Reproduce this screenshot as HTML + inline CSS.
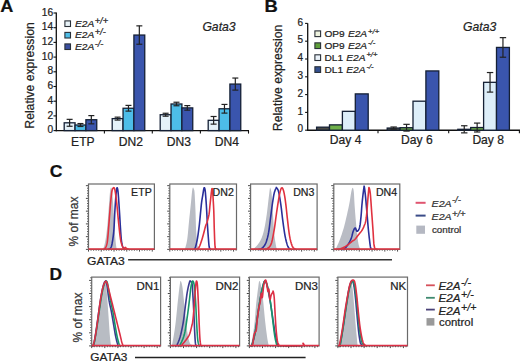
<!DOCTYPE html><html><head><meta charset="utf-8"><style>html,body{margin:0;padding:0;background:#fff;overflow:hidden;width:520px;height:362px;}svg{display:block;}text{font-family:"Liberation Sans", sans-serif;stroke:#222;stroke-width:0.22px;paint-order:stroke;}</style></head><body>
<svg width="520" height="362" viewBox="0 0 520 362">
<rect x="0" y="0" width="520" height="362" fill="#fff"/>
<text transform="translate(0.2,12.0) scale(1.13,1)" font-size="16" font-weight="bold" fill="#111">A</text>
<line x1="56.30" y1="12.60" x2="56.30" y2="131.20" stroke="#111" stroke-width="1.3" />
<line x1="55.70" y1="130.60" x2="249.00" y2="130.60" stroke="#111" stroke-width="1.4" />
<line x1="53.50" y1="130.60" x2="56.30" y2="130.60" stroke="#111" stroke-width="1.1" />
<text x="53.2" y="133.2" font-size="10.2" text-anchor="end" font-weight="normal" font-style="normal" fill="#222" >0</text>
<line x1="53.50" y1="115.90" x2="56.30" y2="115.90" stroke="#111" stroke-width="1.1" />
<text x="53.2" y="118.49999999999999" font-size="10.2" text-anchor="end" font-weight="normal" font-style="normal" fill="#222" >2</text>
<line x1="53.50" y1="101.20" x2="56.30" y2="101.20" stroke="#111" stroke-width="1.1" />
<text x="53.2" y="103.79999999999998" font-size="10.2" text-anchor="end" font-weight="normal" font-style="normal" fill="#222" >4</text>
<line x1="53.50" y1="86.50" x2="56.30" y2="86.50" stroke="#111" stroke-width="1.1" />
<text x="53.2" y="89.1" font-size="10.2" text-anchor="end" font-weight="normal" font-style="normal" fill="#222" >6</text>
<line x1="53.50" y1="71.80" x2="56.30" y2="71.80" stroke="#111" stroke-width="1.1" />
<text x="53.2" y="74.39999999999999" font-size="10.2" text-anchor="end" font-weight="normal" font-style="normal" fill="#222" >8</text>
<line x1="53.50" y1="57.10" x2="56.30" y2="57.10" stroke="#111" stroke-width="1.1" />
<text x="53.2" y="59.699999999999996" font-size="10.2" text-anchor="end" font-weight="normal" font-style="normal" fill="#222" >10</text>
<line x1="53.50" y1="42.40" x2="56.30" y2="42.40" stroke="#111" stroke-width="1.1" />
<text x="53.2" y="45.00000000000001" font-size="10.2" text-anchor="end" font-weight="normal" font-style="normal" fill="#222" >12</text>
<line x1="53.50" y1="27.70" x2="56.30" y2="27.70" stroke="#111" stroke-width="1.1" />
<text x="53.2" y="30.300000000000004" font-size="10.2" text-anchor="end" font-weight="normal" font-style="normal" fill="#222" >14</text>
<line x1="53.50" y1="13.00" x2="56.30" y2="13.00" stroke="#111" stroke-width="1.1" />
<text x="53.2" y="15.6" font-size="10.2" text-anchor="end" font-weight="normal" font-style="normal" fill="#222" >16</text>
<line x1="104.40" y1="130.60" x2="104.40" y2="133.60" stroke="#111" stroke-width="1.1" />
<line x1="152.30" y1="130.60" x2="152.30" y2="133.60" stroke="#111" stroke-width="1.1" />
<line x1="200.40" y1="130.60" x2="200.40" y2="133.60" stroke="#111" stroke-width="1.1" />
<line x1="248.50" y1="130.60" x2="248.50" y2="133.60" stroke="#111" stroke-width="1.1" />
<text transform="translate(33.6,75.5) rotate(-90)" font-size="12.2" text-anchor="middle" fill="#222">Relative expression</text>
<rect x="64.20" y="122.81" width="10.85" height="7.79" fill="#e4f1f9" stroke="#152035" stroke-width="1.3"/>
<line x1="69.62" y1="119.35" x2="69.62" y2="126.26" stroke="#222" stroke-width="1.2" />
<line x1="66.62" y1="119.35" x2="72.62" y2="119.35" stroke="#222" stroke-width="1.2" />
<line x1="66.62" y1="126.26" x2="72.62" y2="126.26" stroke="#222" stroke-width="1.2" />
<rect x="75.05" y="125.01" width="10.85" height="5.59" fill="#4dbde8" stroke="#152035" stroke-width="1.3"/>
<line x1="80.47" y1="123.54" x2="80.47" y2="126.48" stroke="#222" stroke-width="1.2" />
<line x1="77.47" y1="123.54" x2="83.47" y2="123.54" stroke="#222" stroke-width="1.2" />
<line x1="77.47" y1="126.48" x2="83.47" y2="126.48" stroke="#222" stroke-width="1.2" />
<rect x="85.90" y="119.72" width="10.85" height="10.88" fill="#3a55ad" stroke="#152035" stroke-width="1.3"/>
<line x1="91.33" y1="115.61" x2="91.33" y2="123.84" stroke="#222" stroke-width="1.2" />
<line x1="88.33" y1="115.61" x2="94.33" y2="115.61" stroke="#222" stroke-width="1.2" />
<line x1="88.33" y1="123.84" x2="94.33" y2="123.84" stroke="#222" stroke-width="1.2" />
<rect x="112.20" y="118.62" width="10.85" height="11.98" fill="#e4f1f9" stroke="#152035" stroke-width="1.3"/>
<line x1="117.62" y1="117.15" x2="117.62" y2="120.09" stroke="#222" stroke-width="1.2" />
<line x1="114.62" y1="117.15" x2="120.62" y2="117.15" stroke="#222" stroke-width="1.2" />
<line x1="114.62" y1="120.09" x2="120.62" y2="120.09" stroke="#222" stroke-width="1.2" />
<rect x="123.05" y="108.26" width="10.85" height="22.34" fill="#4dbde8" stroke="#152035" stroke-width="1.3"/>
<line x1="128.47" y1="105.39" x2="128.47" y2="111.12" stroke="#222" stroke-width="1.2" />
<line x1="125.47" y1="105.39" x2="131.47" y2="105.39" stroke="#222" stroke-width="1.2" />
<line x1="125.47" y1="111.12" x2="131.47" y2="111.12" stroke="#222" stroke-width="1.2" />
<rect x="133.90" y="35.05" width="10.85" height="95.55" fill="#3a55ad" stroke="#152035" stroke-width="1.3"/>
<line x1="139.33" y1="25.86" x2="139.33" y2="44.24" stroke="#222" stroke-width="1.2" />
<line x1="136.33" y1="25.86" x2="142.33" y2="25.86" stroke="#222" stroke-width="1.2" />
<line x1="136.33" y1="44.24" x2="142.33" y2="44.24" stroke="#222" stroke-width="1.2" />
<rect x="160.20" y="114.72" width="10.85" height="15.88" fill="#e4f1f9" stroke="#152035" stroke-width="1.3"/>
<line x1="165.62" y1="113.25" x2="165.62" y2="116.19" stroke="#222" stroke-width="1.2" />
<line x1="162.62" y1="113.25" x2="168.62" y2="113.25" stroke="#222" stroke-width="1.2" />
<line x1="162.62" y1="116.19" x2="168.62" y2="116.19" stroke="#222" stroke-width="1.2" />
<rect x="171.05" y="103.99" width="10.85" height="26.61" fill="#4dbde8" stroke="#152035" stroke-width="1.3"/>
<line x1="176.47" y1="102.23" x2="176.47" y2="105.76" stroke="#222" stroke-width="1.2" />
<line x1="173.47" y1="102.23" x2="179.47" y2="102.23" stroke="#222" stroke-width="1.2" />
<line x1="173.47" y1="105.76" x2="179.47" y2="105.76" stroke="#222" stroke-width="1.2" />
<rect x="181.90" y="107.89" width="10.85" height="22.71" fill="#3a55ad" stroke="#152035" stroke-width="1.3"/>
<line x1="187.32" y1="105.61" x2="187.32" y2="110.17" stroke="#222" stroke-width="1.2" />
<line x1="184.32" y1="105.61" x2="190.32" y2="105.61" stroke="#222" stroke-width="1.2" />
<line x1="184.32" y1="110.17" x2="190.32" y2="110.17" stroke="#222" stroke-width="1.2" />
<rect x="208.20" y="120.31" width="10.85" height="10.29" fill="#e4f1f9" stroke="#152035" stroke-width="1.3"/>
<line x1="213.62" y1="116.49" x2="213.62" y2="124.13" stroke="#222" stroke-width="1.2" />
<line x1="210.62" y1="116.49" x2="216.62" y2="116.49" stroke="#222" stroke-width="1.2" />
<line x1="210.62" y1="124.13" x2="216.62" y2="124.13" stroke="#222" stroke-width="1.2" />
<rect x="219.05" y="108.77" width="10.85" height="21.83" fill="#4dbde8" stroke="#152035" stroke-width="1.3"/>
<line x1="224.47" y1="104.43" x2="224.47" y2="113.11" stroke="#222" stroke-width="1.2" />
<line x1="221.47" y1="104.43" x2="227.47" y2="104.43" stroke="#222" stroke-width="1.2" />
<line x1="221.47" y1="113.11" x2="227.47" y2="113.11" stroke="#222" stroke-width="1.2" />
<rect x="229.90" y="84.07" width="10.85" height="46.53" fill="#3a55ad" stroke="#152035" stroke-width="1.3"/>
<line x1="235.32" y1="78.05" x2="235.32" y2="90.10" stroke="#222" stroke-width="1.2" />
<line x1="232.32" y1="78.05" x2="238.32" y2="78.05" stroke="#222" stroke-width="1.2" />
<line x1="232.32" y1="90.10" x2="238.32" y2="90.10" stroke="#222" stroke-width="1.2" />
<text x="82.875" y="146.0" font-size="12.1" text-anchor="middle" font-weight="normal" font-style="normal" fill="#222" >ETP</text>
<text x="130.875" y="146.0" font-size="12.1" text-anchor="middle" font-weight="normal" font-style="normal" fill="#222" >DN2</text>
<text x="178.875" y="146.0" font-size="12.1" text-anchor="middle" font-weight="normal" font-style="normal" fill="#222" >DN3</text>
<text x="226.875" y="146.0" font-size="12.1" text-anchor="middle" font-weight="normal" font-style="normal" fill="#222" >DN4</text>
<rect x="64.90" y="20.90" width="5.60" height="5.60" fill="#e8f3f8" stroke="#2a3038" stroke-width="1.1"/>
<text transform="translate(75.0,26.900000000000002) scale(1.08,1)" font-size="9.4" fill="#222" font-style="italic">E2A<tspan font-size="8.6" dx="0.5" dy="-3.3">+/+</tspan></text>
<rect x="64.90" y="32.40" width="5.60" height="5.60" fill="#4fbde6" stroke="#2a3038" stroke-width="1.1"/>
<text transform="translate(75.0,38.4) scale(1.08,1)" font-size="9.4" fill="#222" font-style="italic">E2A<tspan font-size="8.6" dx="0.5" dy="-3.3">+/-</tspan></text>
<rect x="64.90" y="43.90" width="5.60" height="5.60" fill="#3a4fa0" stroke="#2a3038" stroke-width="1.1"/>
<text transform="translate(75.0,49.9) scale(1.08,1)" font-size="9.4" fill="#222" font-style="italic">E2A<tspan font-size="8.6" dx="0.5" dy="-3.3">-/-</tspan></text>
<text x="202.4" y="31.2" font-size="12.2" text-anchor="start" font-weight="normal" font-style="italic" fill="#222" >Gata3</text>
<text transform="translate(264.4,12.1) scale(1.15,1)" font-size="16" font-weight="bold" fill="#111">B</text>
<line x1="307.70" y1="23.20" x2="307.70" y2="130.80" stroke="#111" stroke-width="1.3" />
<line x1="307.10" y1="130.20" x2="520.00" y2="130.20" stroke="#111" stroke-width="1.4" />
<line x1="305.10" y1="130.20" x2="307.70" y2="130.20" stroke="#111" stroke-width="1.1" />
<text x="303.0" y="132.39999999999998" font-size="10.0" text-anchor="end" font-weight="normal" font-style="normal" fill="#222" >0</text>
<line x1="305.10" y1="112.40" x2="307.70" y2="112.40" stroke="#111" stroke-width="1.1" />
<text x="303.0" y="114.6" font-size="10.0" text-anchor="end" font-weight="normal" font-style="normal" fill="#222" >1</text>
<line x1="305.10" y1="94.60" x2="307.70" y2="94.60" stroke="#111" stroke-width="1.1" />
<text x="303.0" y="96.8" font-size="10.0" text-anchor="end" font-weight="normal" font-style="normal" fill="#222" >2</text>
<line x1="305.10" y1="76.80" x2="307.70" y2="76.80" stroke="#111" stroke-width="1.1" />
<text x="303.0" y="78.99999999999999" font-size="10.0" text-anchor="end" font-weight="normal" font-style="normal" fill="#222" >3</text>
<line x1="305.10" y1="59.00" x2="307.70" y2="59.00" stroke="#111" stroke-width="1.1" />
<text x="303.0" y="61.19999999999999" font-size="10.0" text-anchor="end" font-weight="normal" font-style="normal" fill="#222" >4</text>
<line x1="305.10" y1="41.20" x2="307.70" y2="41.20" stroke="#111" stroke-width="1.1" />
<text x="303.0" y="43.39999999999999" font-size="10.0" text-anchor="end" font-weight="normal" font-style="normal" fill="#222" >5</text>
<line x1="305.10" y1="23.40" x2="307.70" y2="23.40" stroke="#111" stroke-width="1.1" />
<text x="303.0" y="25.599999999999977" font-size="10.0" text-anchor="end" font-weight="normal" font-style="normal" fill="#222" >6</text>
<line x1="378.00" y1="130.20" x2="378.00" y2="133.20" stroke="#111" stroke-width="1.1" />
<line x1="448.70" y1="130.20" x2="448.70" y2="133.20" stroke="#111" stroke-width="1.1" />
<line x1="519.40" y1="130.20" x2="519.40" y2="133.20" stroke="#111" stroke-width="1.1" />
<text transform="translate(282.3,78.0) rotate(-90)" font-size="12.2" text-anchor="middle" fill="#222">Relative expression</text>
<rect x="316.60" y="127.17" width="12.90" height="3.03" fill="#4a4a44" stroke="#152035" stroke-width="1.3"/>
<rect x="329.50" y="124.86" width="12.90" height="5.34" fill="#6fb04a" stroke="#152035" stroke-width="1.3"/>
<rect x="342.40" y="111.33" width="12.90" height="18.87" fill="#ddeef9" stroke="#152035" stroke-width="1.3"/>
<rect x="355.30" y="93.89" width="12.90" height="36.31" fill="#3a55ad" stroke="#152035" stroke-width="1.3"/>
<rect x="387.20" y="128.06" width="12.90" height="2.14" fill="#4a4a44" stroke="#152035" stroke-width="1.3"/>
<line x1="393.65" y1="127.00" x2="393.65" y2="129.13" stroke="#222" stroke-width="1.2" />
<line x1="390.45" y1="127.00" x2="396.85" y2="127.00" stroke="#222" stroke-width="1.2" />
<line x1="390.45" y1="129.13" x2="396.85" y2="129.13" stroke="#222" stroke-width="1.2" />
<rect x="400.10" y="127.71" width="12.90" height="2.49" fill="#6fb04a" stroke="#152035" stroke-width="1.3"/>
<line x1="406.55" y1="124.33" x2="406.55" y2="131.09" stroke="#222" stroke-width="1.2" />
<line x1="403.35" y1="124.33" x2="409.75" y2="124.33" stroke="#222" stroke-width="1.2" />
<line x1="403.35" y1="131.09" x2="409.75" y2="131.09" stroke="#222" stroke-width="1.2" />
<rect x="413.00" y="101.19" width="12.90" height="29.01" fill="#ddeef9" stroke="#152035" stroke-width="1.3"/>
<rect x="425.90" y="70.93" width="12.90" height="59.27" fill="#3a55ad" stroke="#152035" stroke-width="1.3"/>
<rect x="457.80" y="129.31" width="12.90" height="0.89" fill="#4a4a44" stroke="#152035" stroke-width="1.3"/>
<line x1="464.25" y1="125.75" x2="464.25" y2="132.87" stroke="#222" stroke-width="1.2" />
<line x1="461.05" y1="125.75" x2="467.45" y2="125.75" stroke="#222" stroke-width="1.2" />
<line x1="461.05" y1="132.87" x2="467.45" y2="132.87" stroke="#222" stroke-width="1.2" />
<rect x="470.70" y="127.53" width="12.90" height="2.67" fill="#6fb04a" stroke="#152035" stroke-width="1.3"/>
<line x1="477.15" y1="123.08" x2="477.15" y2="131.98" stroke="#222" stroke-width="1.2" />
<line x1="473.95" y1="123.08" x2="480.35" y2="123.08" stroke="#222" stroke-width="1.2" />
<line x1="473.95" y1="131.98" x2="480.35" y2="131.98" stroke="#222" stroke-width="1.2" />
<rect x="483.60" y="82.32" width="12.90" height="47.88" fill="#ddeef9" stroke="#152035" stroke-width="1.3"/>
<line x1="490.05" y1="72.53" x2="490.05" y2="92.11" stroke="#222" stroke-width="1.2" />
<line x1="486.85" y1="72.53" x2="493.25" y2="72.53" stroke="#222" stroke-width="1.2" />
<line x1="486.85" y1="92.11" x2="493.25" y2="92.11" stroke="#222" stroke-width="1.2" />
<rect x="496.50" y="47.43" width="12.90" height="82.77" fill="#3a55ad" stroke="#152035" stroke-width="1.3"/>
<line x1="502.95" y1="37.64" x2="502.95" y2="57.22" stroke="#222" stroke-width="1.2" />
<line x1="499.75" y1="37.64" x2="506.15" y2="37.64" stroke="#222" stroke-width="1.2" />
<line x1="499.75" y1="57.22" x2="506.15" y2="57.22" stroke="#222" stroke-width="1.2" />
<text x="345.6" y="143.6" font-size="12.1" text-anchor="middle" font-weight="normal" font-style="normal" fill="#222" >Day 4</text>
<text x="416.90000000000003" y="143.6" font-size="12.1" text-anchor="middle" font-weight="normal" font-style="normal" fill="#222" >Day 6</text>
<text x="488.20000000000005" y="143.6" font-size="12.1" text-anchor="middle" font-weight="normal" font-style="normal" fill="#222" >Day 8</text>
<rect x="314.90" y="30.90" width="5.70" height="5.70" fill="#eef3df" stroke="#2a3038" stroke-width="1.1"/>
<text transform="translate(324.4,36.800000000000004) scale(1.06,1)" font-size="9.6" fill="#222">OP9<tspan dx="3.0" font-style="italic">E2A</tspan><tspan font-style="italic" font-size="7.2" dx="0.9" dy="-3.3">+/+</tspan></text>
<rect x="314.90" y="42.85" width="5.70" height="5.70" fill="#5e9e3a" stroke="#2a3038" stroke-width="1.1"/>
<text transform="translate(324.4,48.75) scale(1.06,1)" font-size="9.6" fill="#222">OP9<tspan dx="3.0" font-style="italic">E2A</tspan><tspan font-style="italic" font-size="7.2" dx="0.9" dy="-3.3">-/-</tspan></text>
<rect x="314.90" y="54.80" width="5.70" height="5.70" fill="#eaf2f9" stroke="#2a3038" stroke-width="1.1"/>
<text transform="translate(324.4,60.7) scale(1.06,1)" font-size="9.6" fill="#222">DL1<tspan dx="3.0" font-style="italic">E2A</tspan><tspan font-style="italic" font-size="7.2" dx="0.9" dy="-3.3">+/+</tspan></text>
<rect x="314.90" y="66.75" width="5.70" height="5.70" fill="#34508f" stroke="#2a3038" stroke-width="1.1"/>
<text transform="translate(324.4,72.64999999999999) scale(1.06,1)" font-size="9.6" fill="#222">DL1<tspan dx="3.0" font-style="italic">E2A</tspan><tspan font-style="italic" font-size="7.2" dx="0.9" dy="-3.3">-/-</tspan></text>
<text x="463.0" y="31.0" font-size="12.2" text-anchor="start" font-weight="normal" font-style="italic" fill="#222" >Gata3</text>
<text transform="translate(49.8,177.0) scale(1.1,1)" font-size="16" font-weight="bold" fill="#111">C</text>
<rect x="88.5" y="184.0" width="65.9" height="65.4" fill="#fff"/>
<polygon points="101.50,249.40 101.72,249.30 102.02,249.21 102.38,249.09 102.76,248.85 103.14,248.44 103.50,247.80 103.84,246.93 104.17,245.89 104.51,244.68 104.85,243.29 105.18,241.73 105.50,240.00 105.82,238.08 106.13,235.98 106.43,233.70 106.73,231.27 107.02,228.69 107.30,226.00 107.57,223.05 107.84,219.81 108.10,216.44 108.35,213.07 108.58,209.88 108.80,207.00 109.00,204.40 109.18,201.94 109.34,199.66 109.50,197.56 109.65,195.66 109.80,194.00 109.94,192.59 110.08,191.43 110.21,190.47 110.34,189.69 110.47,189.04 110.60,188.50 110.73,188.05 110.86,187.72 110.99,187.53 111.12,187.50 111.26,187.65 111.40,188.00 111.55,188.51 111.71,189.15 111.88,189.97 112.05,191.02 112.23,192.35 112.40,194.00 112.58,196.06 112.76,198.52 112.94,201.25 113.13,204.15 113.32,207.10 113.50,210.00 113.68,212.94 113.87,216.04 114.06,219.19 114.24,222.30 114.42,225.27 114.60,228.00 114.77,230.53 114.94,232.93 115.11,235.19 115.28,237.30 115.44,239.24 115.60,241.00 115.75,242.58 115.90,243.99 116.05,245.22 116.20,246.30 116.35,247.23 116.50,248.00 116.67,248.57 116.86,248.93 117.06,249.14 117.24,249.24 117.39,249.31 117.50,249.40" fill="#b9bcc4" stroke="none" stroke-width="0" stroke-linejoin="round" stroke-linecap="round"/>
<polyline points="108.50,249.30 108.72,249.19 109.04,249.06 109.41,248.90 109.80,248.68 110.17,248.39 110.50,248.00 110.78,247.59 111.03,247.20 111.26,246.73 111.50,246.10 111.74,245.22 112.00,244.00 112.29,242.42 112.61,240.55 112.93,238.42 113.25,236.10 113.54,233.61 113.80,231.00 114.02,228.13 114.20,224.92 114.36,221.55 114.51,218.19 114.65,215.02 114.80,212.20 114.95,209.74 115.09,207.51 115.22,205.46 115.35,203.55 115.47,201.74 115.60,200.00 115.72,198.31 115.84,196.71 115.96,195.22 116.07,193.84 116.18,192.60 116.30,191.50 116.42,190.54 116.53,189.71 116.65,189.01 116.77,188.46 116.88,188.05 117.00,187.80 117.12,187.72 117.23,187.79 117.35,188.01 117.47,188.38 117.58,188.88 117.70,189.50 117.81,190.19 117.92,190.95 118.03,191.84 118.14,192.94 118.26,194.30 118.40,196.00 118.56,198.15 118.74,200.73 118.94,203.57 119.13,206.53 119.32,209.46 119.50,212.20 119.66,214.79 119.81,217.36 119.96,219.89 120.10,222.39 120.25,224.82 120.40,227.20 120.56,229.57 120.71,231.95 120.87,234.28 121.03,236.49 121.21,238.52 121.40,240.30 121.61,241.81 121.83,243.10 122.06,244.21 122.30,245.17 122.54,246.02 122.80,246.80 123.09,247.48 123.41,248.02 123.74,248.46 124.05,248.80 124.31,249.07 124.50,249.30" fill="none" stroke="#2a2f9a" stroke-width="1.6" stroke-linejoin="round" stroke-linecap="round"/>
<polyline points="104.50,249.30 104.70,248.98 104.99,248.56 105.32,248.06 105.67,247.46 106.01,246.77 106.30,246.00 106.54,245.23 106.76,244.49 106.97,243.66 107.17,242.63 107.38,241.28 107.60,239.50 107.84,237.16 108.09,234.33 108.35,231.18 108.61,227.89 108.86,224.64 109.10,221.60 109.33,218.68 109.56,215.73 109.78,212.81 110.00,210.00 110.20,207.37 110.40,205.00 110.59,202.89 110.76,200.99 110.93,199.28 111.09,197.72 111.25,196.30 111.40,195.00 111.54,193.84 111.67,192.85 111.80,192.00 111.93,191.26 112.06,190.60 112.20,190.00 112.36,189.47 112.52,189.04 112.69,188.69 112.86,188.41 113.03,188.18 113.20,188.00 113.37,187.84 113.53,187.72 113.70,187.66 113.87,187.67 114.03,187.77 114.20,188.00 114.36,188.29 114.51,188.62 114.67,189.04 114.83,189.63 115.00,190.42 115.20,191.50 115.42,192.85 115.65,194.41 115.90,196.19 116.16,198.19 116.43,200.39 116.70,202.80 116.98,205.52 117.27,208.58 117.58,211.85 117.88,215.20 118.19,218.49 118.50,221.60 118.81,224.64 119.13,227.72 119.44,230.76 119.76,233.63 120.08,236.25 120.40,238.50 120.72,240.35 121.04,241.88 121.36,243.14 121.68,244.21 121.99,245.14 122.30,246.00 122.60,246.76 122.90,247.37 123.19,247.84 123.47,248.20 123.74,248.44 124.00,248.60 124.24,248.59 124.46,248.39 124.66,248.08 124.87,247.76 125.08,247.50 125.30,247.40 125.54,247.48 125.78,247.67 126.03,247.94 126.28,248.23 126.54,248.49 126.80,248.70 127.09,248.85 127.41,248.97 127.74,249.08 128.05,249.17 128.31,249.24 128.50,249.30" fill="none" stroke="#e0313f" stroke-width="1.6" stroke-linejoin="round" stroke-linecap="round"/>
<line x1="85.90" y1="249.40" x2="88.50" y2="249.40" stroke="#3a3a3a" stroke-width="0.9" />
<line x1="87.10" y1="246.85" x2="88.50" y2="246.85" stroke="#3a3a3a" stroke-width="0.9" />
<line x1="87.10" y1="244.30" x2="88.50" y2="244.30" stroke="#3a3a3a" stroke-width="0.9" />
<line x1="87.10" y1="241.75" x2="88.50" y2="241.75" stroke="#3a3a3a" stroke-width="0.9" />
<line x1="87.10" y1="239.20" x2="88.50" y2="239.20" stroke="#3a3a3a" stroke-width="0.9" />
<line x1="85.90" y1="236.65" x2="88.50" y2="236.65" stroke="#3a3a3a" stroke-width="0.9" />
<line x1="87.10" y1="234.10" x2="88.50" y2="234.10" stroke="#3a3a3a" stroke-width="0.9" />
<line x1="87.10" y1="231.55" x2="88.50" y2="231.55" stroke="#3a3a3a" stroke-width="0.9" />
<line x1="87.10" y1="229.00" x2="88.50" y2="229.00" stroke="#3a3a3a" stroke-width="0.9" />
<line x1="87.10" y1="226.45" x2="88.50" y2="226.45" stroke="#3a3a3a" stroke-width="0.9" />
<line x1="85.90" y1="223.90" x2="88.50" y2="223.90" stroke="#3a3a3a" stroke-width="0.9" />
<line x1="87.10" y1="221.35" x2="88.50" y2="221.35" stroke="#3a3a3a" stroke-width="0.9" />
<line x1="87.10" y1="218.80" x2="88.50" y2="218.80" stroke="#3a3a3a" stroke-width="0.9" />
<line x1="87.10" y1="216.25" x2="88.50" y2="216.25" stroke="#3a3a3a" stroke-width="0.9" />
<line x1="87.10" y1="213.70" x2="88.50" y2="213.70" stroke="#3a3a3a" stroke-width="0.9" />
<line x1="85.90" y1="211.15" x2="88.50" y2="211.15" stroke="#3a3a3a" stroke-width="0.9" />
<line x1="87.10" y1="208.60" x2="88.50" y2="208.60" stroke="#3a3a3a" stroke-width="0.9" />
<line x1="87.10" y1="206.05" x2="88.50" y2="206.05" stroke="#3a3a3a" stroke-width="0.9" />
<line x1="87.10" y1="203.50" x2="88.50" y2="203.50" stroke="#3a3a3a" stroke-width="0.9" />
<line x1="87.10" y1="200.95" x2="88.50" y2="200.95" stroke="#3a3a3a" stroke-width="0.9" />
<line x1="85.90" y1="198.40" x2="88.50" y2="198.40" stroke="#3a3a3a" stroke-width="0.9" />
<line x1="87.10" y1="195.85" x2="88.50" y2="195.85" stroke="#3a3a3a" stroke-width="0.9" />
<line x1="87.10" y1="193.30" x2="88.50" y2="193.30" stroke="#3a3a3a" stroke-width="0.9" />
<line x1="87.10" y1="190.75" x2="88.50" y2="190.75" stroke="#3a3a3a" stroke-width="0.9" />
<line x1="87.10" y1="188.20" x2="88.50" y2="188.20" stroke="#3a3a3a" stroke-width="0.9" />
<line x1="85.90" y1="185.65" x2="88.50" y2="185.65" stroke="#3a3a3a" stroke-width="0.9" />
<line x1="88.50" y1="249.40" x2="88.50" y2="251.60" stroke="#3a3a3a" stroke-width="0.9" />
<line x1="91.05" y1="249.40" x2="91.05" y2="250.70" stroke="#3a3a3a" stroke-width="0.9" />
<line x1="93.60" y1="249.40" x2="93.60" y2="250.70" stroke="#3a3a3a" stroke-width="0.9" />
<line x1="96.15" y1="249.40" x2="96.15" y2="250.70" stroke="#3a3a3a" stroke-width="0.9" />
<line x1="98.70" y1="249.40" x2="98.70" y2="250.70" stroke="#3a3a3a" stroke-width="0.9" />
<line x1="101.25" y1="249.40" x2="101.25" y2="251.60" stroke="#3a3a3a" stroke-width="0.9" />
<line x1="103.80" y1="249.40" x2="103.80" y2="250.70" stroke="#3a3a3a" stroke-width="0.9" />
<line x1="106.35" y1="249.40" x2="106.35" y2="250.70" stroke="#3a3a3a" stroke-width="0.9" />
<line x1="108.90" y1="249.40" x2="108.90" y2="250.70" stroke="#3a3a3a" stroke-width="0.9" />
<line x1="111.45" y1="249.40" x2="111.45" y2="250.70" stroke="#3a3a3a" stroke-width="0.9" />
<line x1="114.00" y1="249.40" x2="114.00" y2="251.60" stroke="#3a3a3a" stroke-width="0.9" />
<line x1="116.55" y1="249.40" x2="116.55" y2="250.70" stroke="#3a3a3a" stroke-width="0.9" />
<line x1="119.10" y1="249.40" x2="119.10" y2="250.70" stroke="#3a3a3a" stroke-width="0.9" />
<line x1="121.65" y1="249.40" x2="121.65" y2="250.70" stroke="#3a3a3a" stroke-width="0.9" />
<line x1="124.20" y1="249.40" x2="124.20" y2="250.70" stroke="#3a3a3a" stroke-width="0.9" />
<line x1="126.75" y1="249.40" x2="126.75" y2="251.60" stroke="#3a3a3a" stroke-width="0.9" />
<line x1="129.30" y1="249.40" x2="129.30" y2="250.70" stroke="#3a3a3a" stroke-width="0.9" />
<line x1="131.85" y1="249.40" x2="131.85" y2="250.70" stroke="#3a3a3a" stroke-width="0.9" />
<line x1="134.40" y1="249.40" x2="134.40" y2="250.70" stroke="#3a3a3a" stroke-width="0.9" />
<line x1="136.95" y1="249.40" x2="136.95" y2="250.70" stroke="#3a3a3a" stroke-width="0.9" />
<line x1="139.50" y1="249.40" x2="139.50" y2="251.60" stroke="#3a3a3a" stroke-width="0.9" />
<line x1="142.05" y1="249.40" x2="142.05" y2="250.70" stroke="#3a3a3a" stroke-width="0.9" />
<line x1="144.60" y1="249.40" x2="144.60" y2="250.70" stroke="#3a3a3a" stroke-width="0.9" />
<line x1="147.15" y1="249.40" x2="147.15" y2="250.70" stroke="#3a3a3a" stroke-width="0.9" />
<line x1="149.70" y1="249.40" x2="149.70" y2="250.70" stroke="#3a3a3a" stroke-width="0.9" />
<line x1="152.25" y1="249.40" x2="152.25" y2="251.60" stroke="#3a3a3a" stroke-width="0.9" />
<rect x="88.5" y="184.0" width="65.9" height="65.4" fill="none" stroke="#6a6a6a" stroke-width="1.2"/>
<line x1="88.50" y1="249.00" x2="154.40" y2="249.00" stroke="#e0313f" stroke-width="1.3" />
<text transform="translate(151.70000000000002,195.5) scale(1.05,1)" font-size="10.1" text-anchor="end" fill="#222">ETP</text>
<rect x="169.8" y="184.0" width="66.69999999999999" height="65.4" fill="#fff"/>
<polygon points="184.50,249.40 184.60,249.21 184.73,248.99 184.89,248.71 185.07,248.32 185.28,247.76 185.50,247.00 185.75,246.09 186.04,245.07 186.35,243.89 186.67,242.50 186.99,240.82 187.30,238.80 187.60,236.33 187.90,233.44 188.19,230.28 188.49,226.97 188.79,223.66 189.10,220.50 189.42,217.37 189.76,214.13 190.10,210.90 190.43,207.78 190.73,204.88 191.00,202.30 191.22,200.06 191.41,198.06 191.57,196.28 191.71,194.70 191.86,193.28 192.00,192.00 192.14,190.87 192.27,189.91 192.40,189.12 192.53,188.50 192.66,188.02 192.80,187.70 192.96,187.56 193.13,187.61 193.30,187.82 193.47,188.15 193.64,188.56 193.80,189.00 193.94,189.36 194.08,189.63 194.21,189.99 194.33,190.58 194.46,191.56 194.60,193.10 194.75,195.33 194.90,198.15 195.06,201.36 195.22,204.77 195.37,208.19 195.50,211.40 195.61,214.49 195.70,217.64 195.78,220.78 195.86,223.87 195.96,226.86 196.10,229.70 196.28,232.46 196.49,235.19 196.72,237.82 196.96,240.27 197.19,242.46 197.40,244.30 197.61,245.76 197.82,246.89 198.03,247.76 198.22,248.43 198.38,248.96 198.50,249.40" fill="#b9bcc4" stroke="none" stroke-width="0" stroke-linejoin="round" stroke-linecap="round"/>
<polyline points="194.00,249.40 194.16,249.21 194.37,248.99 194.63,248.71 194.91,248.32 195.21,247.76 195.50,247.00 195.79,246.02 196.11,244.87 196.43,243.55 196.76,242.09 197.08,240.50 197.40,238.80 197.71,236.93 198.03,234.87 198.34,232.69 198.64,230.44 198.93,228.19 199.20,226.00 199.45,223.84 199.68,221.66 199.89,219.48 200.10,217.33 200.30,215.22 200.50,213.20 200.69,211.23 200.88,209.29 201.06,207.41 201.23,205.60 201.41,203.89 201.60,202.30 201.80,200.85 202.00,199.53 202.21,198.31 202.42,197.17 202.62,196.07 202.80,195.00 202.97,193.94 203.13,192.90 203.29,191.91 203.43,190.99 203.57,190.18 203.70,189.50 203.82,188.94 203.92,188.49 204.01,188.14 204.10,187.90 204.20,187.75 204.30,187.70 204.41,187.75 204.53,187.90 204.65,188.14 204.77,188.49 204.89,188.94 205.00,189.50 205.10,190.12 205.20,190.79 205.29,191.57 205.38,192.50 205.48,193.62 205.60,195.00 205.73,196.66 205.88,198.56 206.03,200.66 206.19,202.92 206.35,205.28 206.50,207.70 206.65,210.27 206.80,213.06 206.95,215.94 207.10,218.83 207.25,221.62 207.40,224.20 207.55,226.58 207.70,228.84 207.85,231.01 208.00,233.08 208.15,235.07 208.30,237.00 208.45,238.92 208.59,240.82 208.72,242.65 208.87,244.33 209.03,245.81 209.20,247.00 209.41,247.87 209.65,248.45 209.91,248.82 210.15,249.06 210.35,249.23 210.50,249.40" fill="none" stroke="#2a2f9a" stroke-width="1.6" stroke-linejoin="round" stroke-linecap="round"/>
<polyline points="197.00,249.40 197.24,249.19 197.56,248.93 197.95,248.60 198.37,248.19 198.80,247.66 199.20,247.00 199.59,246.18 200.00,245.20 200.41,244.11 200.81,242.95 201.22,241.77 201.60,240.60 201.97,239.44 202.33,238.23 202.68,237.01 203.03,235.77 203.37,234.53 203.70,233.30 204.03,232.04 204.37,230.73 204.69,229.42 205.01,228.16 205.31,227.00 205.60,226.00 205.86,225.20 206.11,224.56 206.34,224.02 206.57,223.52 206.78,223.00 207.00,222.40 207.21,221.72 207.42,221.01 207.62,220.28 207.82,219.53 208.01,218.77 208.20,218.00 208.38,217.26 208.56,216.56 208.72,215.84 208.89,215.07 209.05,214.20 209.20,213.20 209.35,212.01 209.49,210.65 209.62,209.20 209.75,207.73 209.87,206.30 210.00,205.00 210.12,203.83 210.24,202.74 210.36,201.70 210.47,200.68 210.58,199.66 210.70,198.60 210.82,197.47 210.94,196.30 211.06,195.11 211.17,193.97 211.29,192.92 211.40,192.00 211.51,191.19 211.61,190.45 211.71,189.80 211.81,189.26 211.91,188.85 212.00,188.60 212.09,188.51 212.18,188.58 212.26,188.77 212.34,189.09 212.42,189.50 212.50,190.00 212.57,190.49 212.62,190.98 212.67,191.56 212.73,192.36 212.81,193.47 212.90,195.00 213.03,197.05 213.18,199.55 213.34,202.37 213.51,205.37 213.67,208.42 213.80,211.40 213.90,214.35 213.99,217.40 214.06,220.49 214.13,223.60 214.20,226.69 214.30,229.70 214.41,232.81 214.52,236.09 214.64,239.34 214.78,242.37 214.93,244.99 215.10,247.00 215.31,248.29 215.57,248.99 215.85,249.28 216.11,249.33 216.34,249.31 216.50,249.40" fill="none" stroke="#e0313f" stroke-width="1.6" stroke-linejoin="round" stroke-linecap="round"/>
<line x1="167.20" y1="249.40" x2="169.80" y2="249.40" stroke="#3a3a3a" stroke-width="0.9" />
<line x1="168.40" y1="246.85" x2="169.80" y2="246.85" stroke="#3a3a3a" stroke-width="0.9" />
<line x1="168.40" y1="244.30" x2="169.80" y2="244.30" stroke="#3a3a3a" stroke-width="0.9" />
<line x1="168.40" y1="241.75" x2="169.80" y2="241.75" stroke="#3a3a3a" stroke-width="0.9" />
<line x1="168.40" y1="239.20" x2="169.80" y2="239.20" stroke="#3a3a3a" stroke-width="0.9" />
<line x1="167.20" y1="236.65" x2="169.80" y2="236.65" stroke="#3a3a3a" stroke-width="0.9" />
<line x1="168.40" y1="234.10" x2="169.80" y2="234.10" stroke="#3a3a3a" stroke-width="0.9" />
<line x1="168.40" y1="231.55" x2="169.80" y2="231.55" stroke="#3a3a3a" stroke-width="0.9" />
<line x1="168.40" y1="229.00" x2="169.80" y2="229.00" stroke="#3a3a3a" stroke-width="0.9" />
<line x1="168.40" y1="226.45" x2="169.80" y2="226.45" stroke="#3a3a3a" stroke-width="0.9" />
<line x1="167.20" y1="223.90" x2="169.80" y2="223.90" stroke="#3a3a3a" stroke-width="0.9" />
<line x1="168.40" y1="221.35" x2="169.80" y2="221.35" stroke="#3a3a3a" stroke-width="0.9" />
<line x1="168.40" y1="218.80" x2="169.80" y2="218.80" stroke="#3a3a3a" stroke-width="0.9" />
<line x1="168.40" y1="216.25" x2="169.80" y2="216.25" stroke="#3a3a3a" stroke-width="0.9" />
<line x1="168.40" y1="213.70" x2="169.80" y2="213.70" stroke="#3a3a3a" stroke-width="0.9" />
<line x1="167.20" y1="211.15" x2="169.80" y2="211.15" stroke="#3a3a3a" stroke-width="0.9" />
<line x1="168.40" y1="208.60" x2="169.80" y2="208.60" stroke="#3a3a3a" stroke-width="0.9" />
<line x1="168.40" y1="206.05" x2="169.80" y2="206.05" stroke="#3a3a3a" stroke-width="0.9" />
<line x1="168.40" y1="203.50" x2="169.80" y2="203.50" stroke="#3a3a3a" stroke-width="0.9" />
<line x1="168.40" y1="200.95" x2="169.80" y2="200.95" stroke="#3a3a3a" stroke-width="0.9" />
<line x1="167.20" y1="198.40" x2="169.80" y2="198.40" stroke="#3a3a3a" stroke-width="0.9" />
<line x1="168.40" y1="195.85" x2="169.80" y2="195.85" stroke="#3a3a3a" stroke-width="0.9" />
<line x1="168.40" y1="193.30" x2="169.80" y2="193.30" stroke="#3a3a3a" stroke-width="0.9" />
<line x1="168.40" y1="190.75" x2="169.80" y2="190.75" stroke="#3a3a3a" stroke-width="0.9" />
<line x1="168.40" y1="188.20" x2="169.80" y2="188.20" stroke="#3a3a3a" stroke-width="0.9" />
<line x1="167.20" y1="185.65" x2="169.80" y2="185.65" stroke="#3a3a3a" stroke-width="0.9" />
<line x1="169.80" y1="249.40" x2="169.80" y2="251.60" stroke="#3a3a3a" stroke-width="0.9" />
<line x1="172.35" y1="249.40" x2="172.35" y2="250.70" stroke="#3a3a3a" stroke-width="0.9" />
<line x1="174.90" y1="249.40" x2="174.90" y2="250.70" stroke="#3a3a3a" stroke-width="0.9" />
<line x1="177.45" y1="249.40" x2="177.45" y2="250.70" stroke="#3a3a3a" stroke-width="0.9" />
<line x1="180.00" y1="249.40" x2="180.00" y2="250.70" stroke="#3a3a3a" stroke-width="0.9" />
<line x1="182.55" y1="249.40" x2="182.55" y2="251.60" stroke="#3a3a3a" stroke-width="0.9" />
<line x1="185.10" y1="249.40" x2="185.10" y2="250.70" stroke="#3a3a3a" stroke-width="0.9" />
<line x1="187.65" y1="249.40" x2="187.65" y2="250.70" stroke="#3a3a3a" stroke-width="0.9" />
<line x1="190.20" y1="249.40" x2="190.20" y2="250.70" stroke="#3a3a3a" stroke-width="0.9" />
<line x1="192.75" y1="249.40" x2="192.75" y2="250.70" stroke="#3a3a3a" stroke-width="0.9" />
<line x1="195.30" y1="249.40" x2="195.30" y2="251.60" stroke="#3a3a3a" stroke-width="0.9" />
<line x1="197.85" y1="249.40" x2="197.85" y2="250.70" stroke="#3a3a3a" stroke-width="0.9" />
<line x1="200.40" y1="249.40" x2="200.40" y2="250.70" stroke="#3a3a3a" stroke-width="0.9" />
<line x1="202.95" y1="249.40" x2="202.95" y2="250.70" stroke="#3a3a3a" stroke-width="0.9" />
<line x1="205.50" y1="249.40" x2="205.50" y2="250.70" stroke="#3a3a3a" stroke-width="0.9" />
<line x1="208.05" y1="249.40" x2="208.05" y2="251.60" stroke="#3a3a3a" stroke-width="0.9" />
<line x1="210.60" y1="249.40" x2="210.60" y2="250.70" stroke="#3a3a3a" stroke-width="0.9" />
<line x1="213.15" y1="249.40" x2="213.15" y2="250.70" stroke="#3a3a3a" stroke-width="0.9" />
<line x1="215.70" y1="249.40" x2="215.70" y2="250.70" stroke="#3a3a3a" stroke-width="0.9" />
<line x1="218.25" y1="249.40" x2="218.25" y2="250.70" stroke="#3a3a3a" stroke-width="0.9" />
<line x1="220.80" y1="249.40" x2="220.80" y2="251.60" stroke="#3a3a3a" stroke-width="0.9" />
<line x1="223.35" y1="249.40" x2="223.35" y2="250.70" stroke="#3a3a3a" stroke-width="0.9" />
<line x1="225.90" y1="249.40" x2="225.90" y2="250.70" stroke="#3a3a3a" stroke-width="0.9" />
<line x1="228.45" y1="249.40" x2="228.45" y2="250.70" stroke="#3a3a3a" stroke-width="0.9" />
<line x1="231.00" y1="249.40" x2="231.00" y2="250.70" stroke="#3a3a3a" stroke-width="0.9" />
<line x1="233.55" y1="249.40" x2="233.55" y2="251.60" stroke="#3a3a3a" stroke-width="0.9" />
<line x1="236.10" y1="249.40" x2="236.10" y2="250.70" stroke="#3a3a3a" stroke-width="0.9" />
<rect x="169.8" y="184.0" width="66.69999999999999" height="65.4" fill="none" stroke="#6a6a6a" stroke-width="1.2"/>
<line x1="169.80" y1="249.00" x2="236.50" y2="249.00" stroke="#e0313f" stroke-width="1.3" />
<text transform="translate(233.8,195.5) scale(1.05,1)" font-size="10.1" text-anchor="end" fill="#222">DN2</text>
<rect x="250.6" y="184.0" width="66.50000000000003" height="65.4" fill="#fff"/>
<polygon points="252.00,249.40 252.15,249.39 252.32,249.44 252.54,249.47 252.84,249.40 253.25,249.17 253.80,248.70 254.56,247.97 255.51,247.02 256.57,245.91 257.66,244.68 258.70,243.36 259.60,242.00 260.37,240.62 261.08,239.20 261.73,237.70 262.34,236.07 262.93,234.29 263.50,232.30 264.05,230.05 264.58,227.56 265.07,224.91 265.54,222.18 265.99,219.45 266.40,216.80 266.78,214.17 267.13,211.49 267.44,208.81 267.74,206.18 268.02,203.66 268.30,201.30 268.57,199.03 268.84,196.79 269.09,194.65 269.32,192.70 269.52,191.03 269.70,189.70 269.82,188.73 269.90,188.06 269.95,187.66 270.00,187.50 270.08,187.56 270.20,187.80 270.38,188.19 270.61,188.73 270.86,189.49 271.11,190.52 271.37,191.87 271.60,193.60 271.81,195.78 272.01,198.40 272.21,201.33 272.40,204.48 272.60,207.74 272.80,211.00 273.00,214.41 273.20,218.10 273.41,221.89 273.62,225.63 273.85,229.16 274.10,232.30 274.39,235.12 274.72,237.77 275.07,240.20 275.41,242.37 275.73,244.25 276.00,245.80 276.22,246.92 276.40,247.63 276.56,248.05 276.70,248.29 276.84,248.47 277.00,248.70 277.18,248.95 277.37,249.12 277.56,249.23 277.74,249.30 277.89,249.35 278.00,249.40" fill="#b9bcc4" stroke="none" stroke-width="0" stroke-linejoin="round" stroke-linecap="round"/>
<polyline points="259.00,249.40 259.26,249.37 259.60,249.37 260.01,249.35 260.47,249.26 260.97,249.06 261.50,248.70 262.08,248.19 262.73,247.59 263.43,246.86 264.12,246.01 264.79,245.03 265.40,243.90 265.95,242.61 266.48,241.17 266.97,239.59 267.44,237.90 267.89,236.09 268.30,234.20 268.67,232.19 269.00,230.06 269.31,227.81 269.60,225.49 269.89,223.11 270.20,220.70 270.53,218.19 270.86,215.54 271.20,212.83 271.54,210.15 271.87,207.58 272.20,205.20 272.52,202.97 272.84,200.81 273.16,198.77 273.47,196.86 273.78,195.13 274.10,193.60 274.43,192.28 274.78,191.16 275.13,190.20 275.46,189.40 275.76,188.74 276.00,188.20 276.16,187.79 276.24,187.54 276.29,187.42 276.34,187.43 276.43,187.56 276.60,187.80 276.85,188.09 277.15,188.43 277.49,188.88 277.86,189.53 278.23,190.44 278.60,191.70 278.97,193.37 279.36,195.41 279.76,197.72 280.15,200.20 280.54,202.72 280.90,205.20 281.24,207.67 281.55,210.22 281.85,212.83 282.15,215.47 282.46,218.10 282.80,220.70 283.16,223.34 283.53,226.05 283.91,228.76 284.30,231.39 284.70,233.86 285.10,236.10 285.51,238.13 285.94,240.01 286.37,241.73 286.80,243.28 287.21,244.64 287.60,245.80 287.97,246.70 288.33,247.35 288.67,247.81 289.00,248.15 289.31,248.42 289.60,248.70 289.88,248.95 290.16,249.12 290.43,249.23 290.66,249.30 290.85,249.35 291.00,249.40" fill="none" stroke="#2a2f9a" stroke-width="1.6" stroke-linejoin="round" stroke-linecap="round"/>
<polyline points="265.00,249.40 265.23,249.37 265.54,249.37 265.91,249.35 266.33,249.26 266.80,249.06 267.30,248.70 267.87,248.24 268.52,247.73 269.21,247.11 269.91,246.30 270.59,245.26 271.20,243.90 271.75,242.14 272.28,240.01 272.77,237.64 273.24,235.15 273.69,232.66 274.10,230.30 274.47,228.04 274.80,225.79 275.11,223.54 275.40,221.30 275.69,219.05 276.00,216.80 276.33,214.52 276.66,212.20 277.00,209.88 277.34,207.59 277.67,205.39 278.00,203.30 278.32,201.29 278.64,199.31 278.96,197.41 279.27,195.63 279.58,194.01 279.90,192.60 280.22,191.36 280.53,190.24 280.84,189.29 281.16,188.54 281.48,188.03 281.80,187.80 282.13,187.86 282.46,188.17 282.80,188.73 283.14,189.51 283.47,190.50 283.80,191.70 284.12,193.12 284.44,194.78 284.76,196.66 285.07,198.72 285.38,200.94 285.70,203.30 286.02,205.89 286.33,208.74 286.64,211.76 286.96,214.83 287.28,217.85 287.60,220.70 287.92,223.45 288.24,226.19 288.56,228.88 288.89,231.46 289.24,233.89 289.60,236.10 289.99,238.13 290.40,240.01 290.83,241.73 291.26,243.28 291.69,244.64 292.10,245.80 292.50,246.70 292.91,247.35 293.31,247.81 293.69,248.15 294.06,248.42 294.40,248.70 294.73,248.95 295.04,249.12 295.34,249.23 295.61,249.30 295.83,249.35 296.00,249.40" fill="none" stroke="#e0313f" stroke-width="1.6" stroke-linejoin="round" stroke-linecap="round"/>
<line x1="248.00" y1="249.40" x2="250.60" y2="249.40" stroke="#3a3a3a" stroke-width="0.9" />
<line x1="249.20" y1="246.85" x2="250.60" y2="246.85" stroke="#3a3a3a" stroke-width="0.9" />
<line x1="249.20" y1="244.30" x2="250.60" y2="244.30" stroke="#3a3a3a" stroke-width="0.9" />
<line x1="249.20" y1="241.75" x2="250.60" y2="241.75" stroke="#3a3a3a" stroke-width="0.9" />
<line x1="249.20" y1="239.20" x2="250.60" y2="239.20" stroke="#3a3a3a" stroke-width="0.9" />
<line x1="248.00" y1="236.65" x2="250.60" y2="236.65" stroke="#3a3a3a" stroke-width="0.9" />
<line x1="249.20" y1="234.10" x2="250.60" y2="234.10" stroke="#3a3a3a" stroke-width="0.9" />
<line x1="249.20" y1="231.55" x2="250.60" y2="231.55" stroke="#3a3a3a" stroke-width="0.9" />
<line x1="249.20" y1="229.00" x2="250.60" y2="229.00" stroke="#3a3a3a" stroke-width="0.9" />
<line x1="249.20" y1="226.45" x2="250.60" y2="226.45" stroke="#3a3a3a" stroke-width="0.9" />
<line x1="248.00" y1="223.90" x2="250.60" y2="223.90" stroke="#3a3a3a" stroke-width="0.9" />
<line x1="249.20" y1="221.35" x2="250.60" y2="221.35" stroke="#3a3a3a" stroke-width="0.9" />
<line x1="249.20" y1="218.80" x2="250.60" y2="218.80" stroke="#3a3a3a" stroke-width="0.9" />
<line x1="249.20" y1="216.25" x2="250.60" y2="216.25" stroke="#3a3a3a" stroke-width="0.9" />
<line x1="249.20" y1="213.70" x2="250.60" y2="213.70" stroke="#3a3a3a" stroke-width="0.9" />
<line x1="248.00" y1="211.15" x2="250.60" y2="211.15" stroke="#3a3a3a" stroke-width="0.9" />
<line x1="249.20" y1="208.60" x2="250.60" y2="208.60" stroke="#3a3a3a" stroke-width="0.9" />
<line x1="249.20" y1="206.05" x2="250.60" y2="206.05" stroke="#3a3a3a" stroke-width="0.9" />
<line x1="249.20" y1="203.50" x2="250.60" y2="203.50" stroke="#3a3a3a" stroke-width="0.9" />
<line x1="249.20" y1="200.95" x2="250.60" y2="200.95" stroke="#3a3a3a" stroke-width="0.9" />
<line x1="248.00" y1="198.40" x2="250.60" y2="198.40" stroke="#3a3a3a" stroke-width="0.9" />
<line x1="249.20" y1="195.85" x2="250.60" y2="195.85" stroke="#3a3a3a" stroke-width="0.9" />
<line x1="249.20" y1="193.30" x2="250.60" y2="193.30" stroke="#3a3a3a" stroke-width="0.9" />
<line x1="249.20" y1="190.75" x2="250.60" y2="190.75" stroke="#3a3a3a" stroke-width="0.9" />
<line x1="249.20" y1="188.20" x2="250.60" y2="188.20" stroke="#3a3a3a" stroke-width="0.9" />
<line x1="248.00" y1="185.65" x2="250.60" y2="185.65" stroke="#3a3a3a" stroke-width="0.9" />
<line x1="250.60" y1="249.40" x2="250.60" y2="251.60" stroke="#3a3a3a" stroke-width="0.9" />
<line x1="253.15" y1="249.40" x2="253.15" y2="250.70" stroke="#3a3a3a" stroke-width="0.9" />
<line x1="255.70" y1="249.40" x2="255.70" y2="250.70" stroke="#3a3a3a" stroke-width="0.9" />
<line x1="258.25" y1="249.40" x2="258.25" y2="250.70" stroke="#3a3a3a" stroke-width="0.9" />
<line x1="260.80" y1="249.40" x2="260.80" y2="250.70" stroke="#3a3a3a" stroke-width="0.9" />
<line x1="263.35" y1="249.40" x2="263.35" y2="251.60" stroke="#3a3a3a" stroke-width="0.9" />
<line x1="265.90" y1="249.40" x2="265.90" y2="250.70" stroke="#3a3a3a" stroke-width="0.9" />
<line x1="268.45" y1="249.40" x2="268.45" y2="250.70" stroke="#3a3a3a" stroke-width="0.9" />
<line x1="271.00" y1="249.40" x2="271.00" y2="250.70" stroke="#3a3a3a" stroke-width="0.9" />
<line x1="273.55" y1="249.40" x2="273.55" y2="250.70" stroke="#3a3a3a" stroke-width="0.9" />
<line x1="276.10" y1="249.40" x2="276.10" y2="251.60" stroke="#3a3a3a" stroke-width="0.9" />
<line x1="278.65" y1="249.40" x2="278.65" y2="250.70" stroke="#3a3a3a" stroke-width="0.9" />
<line x1="281.20" y1="249.40" x2="281.20" y2="250.70" stroke="#3a3a3a" stroke-width="0.9" />
<line x1="283.75" y1="249.40" x2="283.75" y2="250.70" stroke="#3a3a3a" stroke-width="0.9" />
<line x1="286.30" y1="249.40" x2="286.30" y2="250.70" stroke="#3a3a3a" stroke-width="0.9" />
<line x1="288.85" y1="249.40" x2="288.85" y2="251.60" stroke="#3a3a3a" stroke-width="0.9" />
<line x1="291.40" y1="249.40" x2="291.40" y2="250.70" stroke="#3a3a3a" stroke-width="0.9" />
<line x1="293.95" y1="249.40" x2="293.95" y2="250.70" stroke="#3a3a3a" stroke-width="0.9" />
<line x1="296.50" y1="249.40" x2="296.50" y2="250.70" stroke="#3a3a3a" stroke-width="0.9" />
<line x1="299.05" y1="249.40" x2="299.05" y2="250.70" stroke="#3a3a3a" stroke-width="0.9" />
<line x1="301.60" y1="249.40" x2="301.60" y2="251.60" stroke="#3a3a3a" stroke-width="0.9" />
<line x1="304.15" y1="249.40" x2="304.15" y2="250.70" stroke="#3a3a3a" stroke-width="0.9" />
<line x1="306.70" y1="249.40" x2="306.70" y2="250.70" stroke="#3a3a3a" stroke-width="0.9" />
<line x1="309.25" y1="249.40" x2="309.25" y2="250.70" stroke="#3a3a3a" stroke-width="0.9" />
<line x1="311.80" y1="249.40" x2="311.80" y2="250.70" stroke="#3a3a3a" stroke-width="0.9" />
<line x1="314.35" y1="249.40" x2="314.35" y2="251.60" stroke="#3a3a3a" stroke-width="0.9" />
<line x1="316.90" y1="249.40" x2="316.90" y2="250.70" stroke="#3a3a3a" stroke-width="0.9" />
<rect x="250.6" y="184.0" width="66.50000000000003" height="65.4" fill="none" stroke="#6a6a6a" stroke-width="1.2"/>
<line x1="250.60" y1="249.00" x2="317.10" y2="249.00" stroke="#e0313f" stroke-width="1.3" />
<text transform="translate(314.40000000000003,195.5) scale(1.05,1)" font-size="10.1" text-anchor="end" fill="#222">DN3</text>
<rect x="333.8" y="184.0" width="66.0" height="65.4" fill="#fff"/>
<polygon points="335.00,249.40 335.05,249.42 335.09,249.51 335.16,249.59 335.27,249.55 335.48,249.29 335.80,248.70 336.27,247.75 336.87,246.50 337.56,245.03 338.29,243.41 339.01,241.71 339.70,240.00 340.36,238.23 341.04,236.35 341.71,234.38 342.37,232.37 343.01,230.37 343.60,228.40 344.14,226.49 344.64,224.60 345.11,222.72 345.57,220.81 346.03,218.84 346.50,216.80 346.99,214.64 347.50,212.37 348.01,210.05 348.51,207.73 348.97,205.46 349.40,203.30 349.78,201.17 350.13,199.01 350.44,196.90 350.74,194.93 351.02,193.17 351.30,191.70 351.57,190.51 351.81,189.54 352.05,188.78 352.27,188.24 352.49,187.91 352.70,187.80 352.90,187.89 353.10,188.17 353.29,188.66 353.47,189.40 353.64,190.40 353.80,191.70 353.95,193.37 354.07,195.41 354.19,197.72 354.31,200.20 354.45,202.72 354.60,205.20 354.78,207.69 354.97,210.29 355.17,212.95 355.38,215.61 355.59,218.21 355.80,220.70 356.01,223.11 356.22,225.49 356.44,227.81 356.66,230.06 356.88,232.19 357.10,234.20 357.33,236.09 357.56,237.90 357.79,239.59 358.02,241.17 358.26,242.61 358.50,243.90 358.75,245.03 359.01,246.01 359.27,246.86 359.53,247.59 359.78,248.19 360.00,248.70 360.21,249.06 360.41,249.26 360.59,249.35 360.76,249.37 360.90,249.37 361.00,249.40" fill="#b9bcc4" stroke="none" stroke-width="0" stroke-linejoin="round" stroke-linecap="round"/>
<polyline points="342.00,249.40 342.26,249.37 342.60,249.37 343.01,249.35 343.47,249.26 343.97,249.06 344.50,248.70 345.08,248.15 345.73,247.44 346.43,246.62 347.12,245.73 347.79,244.81 348.40,243.90 348.95,243.00 349.48,242.08 349.97,241.12 350.44,240.14 350.89,239.14 351.30,238.10 351.67,236.98 352.00,235.78 352.31,234.54 352.60,233.34 352.89,232.24 353.20,231.30 353.53,230.47 353.86,229.70 354.20,229.02 354.54,228.48 354.87,228.13 355.20,228.00 355.52,228.25 355.82,228.88 356.12,229.69 356.43,230.49 356.75,231.09 357.10,231.30 357.49,231.14 357.93,230.78 358.38,230.22 358.83,229.46 359.24,228.52 359.60,227.40 359.90,226.03 360.17,224.40 360.40,222.58 360.61,220.66 360.81,218.70 361.00,216.80 361.18,214.90 361.33,212.94 361.48,210.94 361.61,208.96 361.75,207.03 361.90,205.20 362.06,203.45 362.23,201.75 362.39,200.11 362.56,198.51 362.73,196.98 362.90,195.50 363.07,194.02 363.26,192.54 363.44,191.11 363.61,189.80 363.77,188.67 363.90,187.80 363.99,187.13 364.05,186.61 364.09,186.28 364.14,186.17 364.20,186.33 364.30,186.80 364.44,187.61 364.60,188.73 364.79,190.12 364.99,191.74 365.19,193.54 365.40,195.50 365.62,197.69 365.85,200.16 366.09,202.82 366.33,205.58 366.57,208.34 366.80,211.00 367.02,213.63 367.24,216.31 367.46,218.99 367.68,221.62 367.89,224.14 368.10,226.50 368.30,228.68 368.50,230.73 368.70,232.66 368.90,234.52 369.10,236.32 369.30,238.10 369.51,239.92 369.72,241.77 369.94,243.57 370.16,245.24 370.38,246.67 370.60,247.80 370.84,248.55 371.11,248.99 371.38,249.21 371.63,249.29 371.85,249.32 372.00,249.40" fill="none" stroke="#2a2f9a" stroke-width="1.6" stroke-linejoin="round" stroke-linecap="round"/>
<polyline points="338.00,249.40 338.26,249.35 338.59,249.30 338.99,249.23 339.47,249.12 340.04,248.95 340.70,248.70 341.50,248.35 342.44,247.93 343.47,247.44 344.53,246.91 345.56,246.36 346.50,245.80 347.37,245.21 348.21,244.57 349.02,243.91 349.80,243.24 350.56,242.60 351.30,242.00 352.01,241.46 352.70,240.97 353.37,240.50 354.01,240.03 354.62,239.54 355.20,239.00 355.73,238.43 356.20,237.83 356.65,237.22 357.10,236.58 357.57,235.91 358.10,235.20 358.71,234.45 359.39,233.64 360.09,232.81 360.78,231.97 361.43,231.12 362.00,230.30 362.49,229.49 362.91,228.69 363.30,227.89 363.65,227.10 363.98,226.30 364.30,225.50 364.60,224.73 364.88,224.01 365.13,223.29 365.37,222.52 365.59,221.67 365.80,220.70 366.00,219.62 366.17,218.46 366.34,217.22 366.49,215.89 366.64,214.45 366.80,212.90 366.95,211.19 367.10,209.31 367.25,207.34 367.40,205.31 367.55,203.28 367.70,201.30 367.87,199.25 368.05,197.07 368.23,194.89 368.41,192.85 368.57,191.07 368.70,189.70 368.79,188.73 368.85,188.06 368.89,187.66 368.93,187.50 368.99,187.56 369.10,187.80 369.25,188.19 369.44,188.73 369.64,189.49 369.86,190.52 370.08,191.87 370.30,193.60 370.51,195.81 370.72,198.47 370.94,201.46 371.16,204.63 371.38,207.86 371.60,211.00 371.83,214.17 372.08,217.50 372.33,220.89 372.57,224.22 372.79,227.39 373.00,230.30 373.18,233.00 373.33,235.58 373.46,238.01 373.60,240.23 373.74,242.21 373.90,243.90 374.07,245.26 374.25,246.30 374.44,247.11 374.64,247.73 374.86,248.24 375.10,248.70 375.40,249.06 375.75,249.26 376.13,249.35 376.48,249.37 376.79,249.37 377.00,249.40" fill="none" stroke="#e0313f" stroke-width="1.6" stroke-linejoin="round" stroke-linecap="round"/>
<line x1="331.20" y1="249.40" x2="333.80" y2="249.40" stroke="#3a3a3a" stroke-width="0.9" />
<line x1="332.40" y1="246.85" x2="333.80" y2="246.85" stroke="#3a3a3a" stroke-width="0.9" />
<line x1="332.40" y1="244.30" x2="333.80" y2="244.30" stroke="#3a3a3a" stroke-width="0.9" />
<line x1="332.40" y1="241.75" x2="333.80" y2="241.75" stroke="#3a3a3a" stroke-width="0.9" />
<line x1="332.40" y1="239.20" x2="333.80" y2="239.20" stroke="#3a3a3a" stroke-width="0.9" />
<line x1="331.20" y1="236.65" x2="333.80" y2="236.65" stroke="#3a3a3a" stroke-width="0.9" />
<line x1="332.40" y1="234.10" x2="333.80" y2="234.10" stroke="#3a3a3a" stroke-width="0.9" />
<line x1="332.40" y1="231.55" x2="333.80" y2="231.55" stroke="#3a3a3a" stroke-width="0.9" />
<line x1="332.40" y1="229.00" x2="333.80" y2="229.00" stroke="#3a3a3a" stroke-width="0.9" />
<line x1="332.40" y1="226.45" x2="333.80" y2="226.45" stroke="#3a3a3a" stroke-width="0.9" />
<line x1="331.20" y1="223.90" x2="333.80" y2="223.90" stroke="#3a3a3a" stroke-width="0.9" />
<line x1="332.40" y1="221.35" x2="333.80" y2="221.35" stroke="#3a3a3a" stroke-width="0.9" />
<line x1="332.40" y1="218.80" x2="333.80" y2="218.80" stroke="#3a3a3a" stroke-width="0.9" />
<line x1="332.40" y1="216.25" x2="333.80" y2="216.25" stroke="#3a3a3a" stroke-width="0.9" />
<line x1="332.40" y1="213.70" x2="333.80" y2="213.70" stroke="#3a3a3a" stroke-width="0.9" />
<line x1="331.20" y1="211.15" x2="333.80" y2="211.15" stroke="#3a3a3a" stroke-width="0.9" />
<line x1="332.40" y1="208.60" x2="333.80" y2="208.60" stroke="#3a3a3a" stroke-width="0.9" />
<line x1="332.40" y1="206.05" x2="333.80" y2="206.05" stroke="#3a3a3a" stroke-width="0.9" />
<line x1="332.40" y1="203.50" x2="333.80" y2="203.50" stroke="#3a3a3a" stroke-width="0.9" />
<line x1="332.40" y1="200.95" x2="333.80" y2="200.95" stroke="#3a3a3a" stroke-width="0.9" />
<line x1="331.20" y1="198.40" x2="333.80" y2="198.40" stroke="#3a3a3a" stroke-width="0.9" />
<line x1="332.40" y1="195.85" x2="333.80" y2="195.85" stroke="#3a3a3a" stroke-width="0.9" />
<line x1="332.40" y1="193.30" x2="333.80" y2="193.30" stroke="#3a3a3a" stroke-width="0.9" />
<line x1="332.40" y1="190.75" x2="333.80" y2="190.75" stroke="#3a3a3a" stroke-width="0.9" />
<line x1="332.40" y1="188.20" x2="333.80" y2="188.20" stroke="#3a3a3a" stroke-width="0.9" />
<line x1="331.20" y1="185.65" x2="333.80" y2="185.65" stroke="#3a3a3a" stroke-width="0.9" />
<line x1="333.80" y1="249.40" x2="333.80" y2="251.60" stroke="#3a3a3a" stroke-width="0.9" />
<line x1="336.35" y1="249.40" x2="336.35" y2="250.70" stroke="#3a3a3a" stroke-width="0.9" />
<line x1="338.90" y1="249.40" x2="338.90" y2="250.70" stroke="#3a3a3a" stroke-width="0.9" />
<line x1="341.45" y1="249.40" x2="341.45" y2="250.70" stroke="#3a3a3a" stroke-width="0.9" />
<line x1="344.00" y1="249.40" x2="344.00" y2="250.70" stroke="#3a3a3a" stroke-width="0.9" />
<line x1="346.55" y1="249.40" x2="346.55" y2="251.60" stroke="#3a3a3a" stroke-width="0.9" />
<line x1="349.10" y1="249.40" x2="349.10" y2="250.70" stroke="#3a3a3a" stroke-width="0.9" />
<line x1="351.65" y1="249.40" x2="351.65" y2="250.70" stroke="#3a3a3a" stroke-width="0.9" />
<line x1="354.20" y1="249.40" x2="354.20" y2="250.70" stroke="#3a3a3a" stroke-width="0.9" />
<line x1="356.75" y1="249.40" x2="356.75" y2="250.70" stroke="#3a3a3a" stroke-width="0.9" />
<line x1="359.30" y1="249.40" x2="359.30" y2="251.60" stroke="#3a3a3a" stroke-width="0.9" />
<line x1="361.85" y1="249.40" x2="361.85" y2="250.70" stroke="#3a3a3a" stroke-width="0.9" />
<line x1="364.40" y1="249.40" x2="364.40" y2="250.70" stroke="#3a3a3a" stroke-width="0.9" />
<line x1="366.95" y1="249.40" x2="366.95" y2="250.70" stroke="#3a3a3a" stroke-width="0.9" />
<line x1="369.50" y1="249.40" x2="369.50" y2="250.70" stroke="#3a3a3a" stroke-width="0.9" />
<line x1="372.05" y1="249.40" x2="372.05" y2="251.60" stroke="#3a3a3a" stroke-width="0.9" />
<line x1="374.60" y1="249.40" x2="374.60" y2="250.70" stroke="#3a3a3a" stroke-width="0.9" />
<line x1="377.15" y1="249.40" x2="377.15" y2="250.70" stroke="#3a3a3a" stroke-width="0.9" />
<line x1="379.70" y1="249.40" x2="379.70" y2="250.70" stroke="#3a3a3a" stroke-width="0.9" />
<line x1="382.25" y1="249.40" x2="382.25" y2="250.70" stroke="#3a3a3a" stroke-width="0.9" />
<line x1="384.80" y1="249.40" x2="384.80" y2="251.60" stroke="#3a3a3a" stroke-width="0.9" />
<line x1="387.35" y1="249.40" x2="387.35" y2="250.70" stroke="#3a3a3a" stroke-width="0.9" />
<line x1="389.90" y1="249.40" x2="389.90" y2="250.70" stroke="#3a3a3a" stroke-width="0.9" />
<line x1="392.45" y1="249.40" x2="392.45" y2="250.70" stroke="#3a3a3a" stroke-width="0.9" />
<line x1="395.00" y1="249.40" x2="395.00" y2="250.70" stroke="#3a3a3a" stroke-width="0.9" />
<line x1="397.55" y1="249.40" x2="397.55" y2="251.60" stroke="#3a3a3a" stroke-width="0.9" />
<rect x="333.8" y="184.0" width="66.0" height="65.4" fill="none" stroke="#6a6a6a" stroke-width="1.2"/>
<line x1="333.80" y1="249.00" x2="399.80" y2="249.00" stroke="#e0313f" stroke-width="1.3" />
<text transform="translate(397.1,195.5) scale(1.05,1)" font-size="10.1" text-anchor="end" fill="#222">DN4</text>
<text transform="translate(77.7,221.5) rotate(-90)" font-size="12" text-anchor="middle" fill="#333">% of max</text>
<text transform="translate(87.0,265.3) scale(1.12,1)" font-size="10.8" fill="#222">GATA3</text>
<line x1="128.10" y1="259.80" x2="392.00" y2="259.80" stroke="#333" stroke-width="1.4" />
<line x1="415.60" y1="202.80" x2="425.60" y2="202.80" stroke="#e05570" stroke-width="2" />
<line x1="415.60" y1="215.60" x2="425.60" y2="215.60" stroke="#3a4c88" stroke-width="2" />
<rect x="416.3" y="225.6" width="8.7" height="8.2" fill="#b5b8c2"/>
<text transform="translate(431.6,206.6) scale(1.08,1)" font-size="9.8" fill="#333" font-style="italic">E2A<tspan font-size="8.8" dx="0.3" dy="-3.4">-/-</tspan></text>
<text transform="translate(431.6,220.1) scale(1.08,1)" font-size="9.8" fill="#333" font-style="italic">E2A<tspan font-size="8.8" dx="0.3" dy="-3.4">+/+</tspan></text>
<text x="431.9" y="232.8" font-size="9.8" text-anchor="start" font-weight="normal" font-style="normal" fill="#333" >control</text>
<text transform="translate(49.5,279.9) scale(1.1,1)" font-size="15.8" font-weight="bold" fill="#111">D</text>
<rect x="91.7" y="277.1" width="68.89999999999999" height="68.79999999999995" fill="#fff"/>
<polygon points="93.30,345.90 93.47,345.48 93.70,344.99 93.98,344.37 94.29,343.53 94.60,342.40 94.90,340.90 95.19,338.97 95.47,336.66 95.77,334.05 96.08,331.24 96.42,328.33 96.80,325.40 97.23,322.33 97.71,319.02 98.22,315.61 98.74,312.21 99.24,308.97 99.70,306.00 100.12,303.28 100.53,300.69 100.92,298.26 101.29,295.99 101.65,293.89 102.00,292.00 102.34,290.31 102.66,288.81 102.97,287.49 103.26,286.34 103.54,285.35 103.80,284.50 104.04,283.81 104.25,283.29 104.45,282.93 104.64,282.71 104.82,282.60 105.00,282.60 105.18,282.65 105.34,282.75 105.51,282.97 105.67,283.37 105.83,284.03 106.00,285.00 106.17,286.29 106.35,287.84 106.53,289.64 106.71,291.68 106.90,293.94 107.10,296.40 107.32,299.16 107.55,302.25 107.79,305.56 108.03,308.97 108.27,312.39 108.50,315.70 108.73,319.04 108.95,322.52 109.17,326.01 109.39,329.34 109.60,332.39 109.80,335.00 109.99,337.15 110.17,338.96 110.34,340.48 110.50,341.75 110.65,342.84 110.80,343.80 110.94,344.56 111.08,345.07 111.21,345.40 111.33,345.60 111.43,345.75 111.50,345.90" fill="#b8bcc3" stroke="none" stroke-width="0" stroke-linejoin="round" stroke-linecap="round"/>
<polyline points="92.80,345.90 92.94,345.59 93.13,345.26 93.36,344.82 93.61,344.19 93.90,343.28 94.20,342.00 94.53,340.30 94.89,338.23 95.28,335.88 95.69,333.34 96.09,330.68 96.50,328.00 96.91,325.21 97.32,322.22 97.74,319.12 98.16,316.00 98.58,312.93 99.00,310.00 99.42,307.14 99.85,304.26 100.28,301.44 100.70,298.74 101.11,296.24 101.50,294.00 101.87,292.03 102.21,290.29 102.55,288.73 102.87,287.35 103.19,286.11 103.50,285.00 103.80,284.01 104.10,283.17 104.39,282.48 104.67,281.94 104.94,281.54 105.20,281.30 105.44,281.09 105.65,280.89 105.86,280.84 106.07,281.09 106.31,281.76 106.60,283.00 106.94,285.03 107.33,287.79 107.74,290.98 108.16,294.31 108.59,297.48 109.00,300.20 109.40,302.46 109.81,304.48 110.22,306.35 110.63,308.14 111.02,309.93 111.40,311.80 111.76,313.73 112.10,315.67 112.43,317.60 112.75,319.53 113.07,321.47 113.40,323.40 113.74,325.38 114.07,327.41 114.41,329.44 114.75,331.41 115.08,333.29 115.40,335.00 115.72,336.57 116.03,338.06 116.34,339.43 116.64,340.69 116.93,341.82 117.20,342.80 117.46,343.62 117.72,344.30 117.96,344.84 118.18,345.27 118.36,345.62 118.50,345.90" fill="none" stroke="#3b3a8f" stroke-width="1.6" stroke-linejoin="round" stroke-linecap="round"/>
<polyline points="93.00,345.90 93.14,345.59 93.33,345.26 93.55,344.82 93.81,344.19 94.09,343.28 94.40,342.00 94.74,340.30 95.12,338.23 95.53,335.88 95.95,333.34 96.38,330.68 96.80,328.00 97.22,325.21 97.66,322.22 98.09,319.12 98.53,316.00 98.97,312.93 99.40,310.00 99.83,307.14 100.26,304.26 100.68,301.44 101.10,298.74 101.51,296.24 101.90,294.00 102.28,292.03 102.64,290.28 102.99,288.72 103.34,287.33 103.67,286.10 104.00,285.00 104.32,284.03 104.63,283.22 104.92,282.56 105.22,282.06 105.51,281.70 105.80,281.50 106.08,281.34 106.33,281.21 106.58,281.24 106.85,281.54 107.15,282.25 107.50,283.50 107.92,285.49 108.39,288.17 108.90,291.25 109.42,294.47 109.93,297.54 110.40,300.20 110.85,302.43 111.29,304.44 111.71,306.32 112.13,308.12 112.52,309.93 112.90,311.80 113.25,313.73 113.57,315.67 113.88,317.60 114.18,319.53 114.48,321.47 114.80,323.40 115.13,325.38 115.46,327.41 115.80,329.44 116.14,331.41 116.47,333.29 116.80,335.00 117.13,336.57 117.46,338.06 117.79,339.43 118.11,340.69 118.42,341.82 118.70,342.80 118.97,343.62 119.23,344.30 119.47,344.84 119.69,345.27 119.87,345.62 120.00,345.90" fill="none" stroke="#17956a" stroke-width="1.6" stroke-linejoin="round" stroke-linecap="round"/>
<polyline points="92.50,345.90 92.65,345.62 92.86,345.27 93.10,344.84 93.37,344.30 93.64,343.62 93.90,342.80 94.15,341.86 94.39,340.83 94.64,339.67 94.91,338.34 95.19,336.79 95.50,335.00 95.84,332.90 96.21,330.50 96.61,327.90 97.01,325.16 97.41,322.37 97.80,319.60 98.18,316.77 98.56,313.81 98.94,310.79 99.32,307.79 99.71,304.90 100.10,302.20 100.51,299.62 100.94,297.09 101.38,294.66 101.80,292.40 102.22,290.36 102.60,288.60 102.96,287.16 103.30,286.00 103.62,285.06 103.93,284.28 104.22,283.62 104.50,283.00 104.76,282.45 105.01,282.00 105.24,281.66 105.46,281.43 105.68,281.31 105.90,281.30 106.12,281.41 106.34,281.64 106.56,281.98 106.77,282.41 106.98,282.92 107.20,283.50 107.40,284.11 107.57,284.74 107.75,285.46 107.95,286.31 108.19,287.34 108.50,288.60 108.89,290.16 109.35,291.99 109.85,293.99 110.37,296.09 110.90,298.19 111.40,300.20 111.88,302.13 112.37,304.07 112.85,306.00 113.33,307.93 113.82,309.87 114.30,311.80 114.78,313.73 115.27,315.67 115.75,317.60 116.23,319.53 116.72,321.47 117.20,323.40 117.69,325.38 118.20,327.41 118.71,329.44 119.21,331.41 119.67,333.29 120.10,335.00 120.48,336.57 120.82,338.06 121.14,339.43 121.43,340.69 121.72,341.82 122.00,342.80 122.29,343.62 122.59,344.30 122.87,344.84 123.13,345.27 123.34,345.62 123.50,345.90" fill="none" stroke="#dc2f45" stroke-width="1.6" stroke-linejoin="round" stroke-linecap="round"/>
<line x1="89.10" y1="345.90" x2="91.70" y2="345.90" stroke="#333" stroke-width="0.9" />
<line x1="90.30" y1="343.28" x2="91.70" y2="343.28" stroke="#333" stroke-width="0.9" />
<line x1="90.30" y1="340.66" x2="91.70" y2="340.66" stroke="#333" stroke-width="0.9" />
<line x1="90.30" y1="338.04" x2="91.70" y2="338.04" stroke="#333" stroke-width="0.9" />
<line x1="90.30" y1="335.42" x2="91.70" y2="335.42" stroke="#333" stroke-width="0.9" />
<line x1="89.10" y1="332.80" x2="91.70" y2="332.80" stroke="#333" stroke-width="0.9" />
<line x1="90.30" y1="330.18" x2="91.70" y2="330.18" stroke="#333" stroke-width="0.9" />
<line x1="90.30" y1="327.56" x2="91.70" y2="327.56" stroke="#333" stroke-width="0.9" />
<line x1="90.30" y1="324.94" x2="91.70" y2="324.94" stroke="#333" stroke-width="0.9" />
<line x1="90.30" y1="322.32" x2="91.70" y2="322.32" stroke="#333" stroke-width="0.9" />
<line x1="89.10" y1="319.70" x2="91.70" y2="319.70" stroke="#333" stroke-width="0.9" />
<line x1="90.30" y1="317.08" x2="91.70" y2="317.08" stroke="#333" stroke-width="0.9" />
<line x1="90.30" y1="314.46" x2="91.70" y2="314.46" stroke="#333" stroke-width="0.9" />
<line x1="90.30" y1="311.84" x2="91.70" y2="311.84" stroke="#333" stroke-width="0.9" />
<line x1="90.30" y1="309.22" x2="91.70" y2="309.22" stroke="#333" stroke-width="0.9" />
<line x1="89.10" y1="306.60" x2="91.70" y2="306.60" stroke="#333" stroke-width="0.9" />
<line x1="90.30" y1="303.98" x2="91.70" y2="303.98" stroke="#333" stroke-width="0.9" />
<line x1="90.30" y1="301.36" x2="91.70" y2="301.36" stroke="#333" stroke-width="0.9" />
<line x1="90.30" y1="298.74" x2="91.70" y2="298.74" stroke="#333" stroke-width="0.9" />
<line x1="90.30" y1="296.12" x2="91.70" y2="296.12" stroke="#333" stroke-width="0.9" />
<line x1="89.10" y1="293.50" x2="91.70" y2="293.50" stroke="#333" stroke-width="0.9" />
<line x1="90.30" y1="290.88" x2="91.70" y2="290.88" stroke="#333" stroke-width="0.9" />
<line x1="90.30" y1="288.26" x2="91.70" y2="288.26" stroke="#333" stroke-width="0.9" />
<line x1="90.30" y1="285.64" x2="91.70" y2="285.64" stroke="#333" stroke-width="0.9" />
<line x1="90.30" y1="283.02" x2="91.70" y2="283.02" stroke="#333" stroke-width="0.9" />
<line x1="89.10" y1="280.40" x2="91.70" y2="280.40" stroke="#333" stroke-width="0.9" />
<line x1="90.30" y1="277.78" x2="91.70" y2="277.78" stroke="#333" stroke-width="0.9" />
<line x1="91.70" y1="345.90" x2="91.70" y2="348.10" stroke="#333" stroke-width="0.9" />
<line x1="94.32" y1="345.90" x2="94.32" y2="347.20" stroke="#333" stroke-width="0.9" />
<line x1="96.94" y1="345.90" x2="96.94" y2="347.20" stroke="#333" stroke-width="0.9" />
<line x1="99.56" y1="345.90" x2="99.56" y2="347.20" stroke="#333" stroke-width="0.9" />
<line x1="102.18" y1="345.90" x2="102.18" y2="347.20" stroke="#333" stroke-width="0.9" />
<line x1="104.80" y1="345.90" x2="104.80" y2="348.10" stroke="#333" stroke-width="0.9" />
<line x1="107.42" y1="345.90" x2="107.42" y2="347.20" stroke="#333" stroke-width="0.9" />
<line x1="110.04" y1="345.90" x2="110.04" y2="347.20" stroke="#333" stroke-width="0.9" />
<line x1="112.66" y1="345.90" x2="112.66" y2="347.20" stroke="#333" stroke-width="0.9" />
<line x1="115.28" y1="345.90" x2="115.28" y2="347.20" stroke="#333" stroke-width="0.9" />
<line x1="117.90" y1="345.90" x2="117.90" y2="348.10" stroke="#333" stroke-width="0.9" />
<line x1="120.52" y1="345.90" x2="120.52" y2="347.20" stroke="#333" stroke-width="0.9" />
<line x1="123.14" y1="345.90" x2="123.14" y2="347.20" stroke="#333" stroke-width="0.9" />
<line x1="125.76" y1="345.90" x2="125.76" y2="347.20" stroke="#333" stroke-width="0.9" />
<line x1="128.38" y1="345.90" x2="128.38" y2="347.20" stroke="#333" stroke-width="0.9" />
<line x1="131.00" y1="345.90" x2="131.00" y2="348.10" stroke="#333" stroke-width="0.9" />
<line x1="133.62" y1="345.90" x2="133.62" y2="347.20" stroke="#333" stroke-width="0.9" />
<line x1="136.24" y1="345.90" x2="136.24" y2="347.20" stroke="#333" stroke-width="0.9" />
<line x1="138.86" y1="345.90" x2="138.86" y2="347.20" stroke="#333" stroke-width="0.9" />
<line x1="141.48" y1="345.90" x2="141.48" y2="347.20" stroke="#333" stroke-width="0.9" />
<line x1="144.10" y1="345.90" x2="144.10" y2="348.10" stroke="#333" stroke-width="0.9" />
<line x1="146.72" y1="345.90" x2="146.72" y2="347.20" stroke="#333" stroke-width="0.9" />
<line x1="149.34" y1="345.90" x2="149.34" y2="347.20" stroke="#333" stroke-width="0.9" />
<line x1="151.96" y1="345.90" x2="151.96" y2="347.20" stroke="#333" stroke-width="0.9" />
<line x1="154.58" y1="345.90" x2="154.58" y2="347.20" stroke="#333" stroke-width="0.9" />
<line x1="157.20" y1="345.90" x2="157.20" y2="348.10" stroke="#333" stroke-width="0.9" />
<line x1="159.82" y1="345.90" x2="159.82" y2="347.20" stroke="#333" stroke-width="0.9" />
<rect x="91.7" y="277.1" width="68.89999999999999" height="68.79999999999995" fill="none" stroke="#6a6a6a" stroke-width="1.2"/>
<line x1="91.70" y1="345.50" x2="160.60" y2="345.50" stroke="#dc2f45" stroke-width="1.3" />
<text x="159.4" y="289.6" font-size="11.5" text-anchor="end" font-weight="normal" font-style="normal" fill="#222" >DN1</text>
<rect x="170.4" y="277.1" width="69.19999999999999" height="68.79999999999995" fill="#fff"/>
<polygon points="171.00,345.90 171.10,345.94 171.21,346.17 171.36,346.35 171.54,346.28 171.79,345.73 172.10,344.50 172.51,342.49 173.00,339.85 173.56,336.74 174.13,333.31 174.69,329.72 175.20,326.10 175.67,322.28 176.13,318.09 176.57,313.73 177.00,309.39 177.41,305.29 177.80,301.60 178.17,298.26 178.52,295.08 178.85,292.12 179.16,289.46 179.44,287.13 179.70,285.20 179.91,283.70 180.08,282.58 180.22,281.81 180.36,281.33 180.51,281.11 180.70,281.10 180.93,281.30 181.19,281.74 181.46,282.43 181.74,283.40 182.02,284.65 182.30,286.20 182.57,288.11 182.85,290.39 183.13,292.94 183.41,295.71 183.70,298.62 184.00,301.60 184.32,304.78 184.64,308.26 184.98,311.87 185.32,315.47 185.66,318.90 186.00,322.00 186.33,324.82 186.66,327.48 186.99,329.98 187.33,332.29 187.66,334.40 188.00,336.30 188.34,337.98 188.68,339.44 189.02,340.71 189.37,341.79 189.73,342.72 190.10,343.50 190.50,344.07 190.93,344.41 191.37,344.59 191.79,344.68 192.18,344.76 192.50,344.90 192.76,345.10 192.97,345.30 193.15,345.49 193.29,345.66 193.41,345.80 193.50,345.90" fill="#b8bcc3" stroke="none" stroke-width="0" stroke-linejoin="round" stroke-linecap="round"/>
<polyline points="176.00,345.90 176.11,345.83 176.24,345.79 176.41,345.71 176.61,345.52 176.88,345.14 177.20,344.50 177.61,343.60 178.10,342.50 178.64,341.21 179.20,339.74 179.77,338.10 180.30,336.30 180.82,334.29 181.34,332.06 181.86,329.66 182.37,327.14 182.85,324.57 183.30,322.00 183.70,319.38 184.07,316.64 184.41,313.85 184.74,311.06 185.07,308.32 185.40,305.70 185.74,303.14 186.07,300.60 186.40,298.11 186.73,295.71 187.06,293.47 187.40,291.40 187.76,289.48 188.13,287.66 188.51,285.97 188.88,284.48 189.21,283.21 189.50,282.20 189.72,281.50 189.89,281.08 190.03,280.88 190.16,280.86 190.31,280.95 190.50,281.10 190.74,281.28 191.02,281.52 191.31,281.88 191.60,282.41 191.87,283.17 192.10,284.20 192.28,285.49 192.41,286.99 192.53,288.71 192.64,290.68 192.76,292.90 192.90,295.40 193.07,298.30 193.26,301.62 193.45,305.20 193.64,308.88 193.83,312.50 194.00,315.90 194.15,319.18 194.29,322.49 194.42,325.74 194.54,328.85 194.67,331.73 194.80,334.30 194.93,336.58 195.06,338.63 195.19,340.46 195.32,342.06 195.46,343.40 195.60,344.50 195.77,345.26 195.96,345.67 196.15,345.84 196.33,345.86 196.49,345.85 196.60,345.90" fill="none" stroke="#3b3a8f" stroke-width="1.6" stroke-linejoin="round" stroke-linecap="round"/>
<polyline points="179.00,345.90 179.11,345.85 179.23,345.86 179.39,345.84 179.61,345.67 179.91,345.26 180.30,344.50 180.83,343.40 181.50,342.06 182.24,340.46 183.01,338.63 183.75,336.58 184.40,334.30 184.97,331.68 185.51,328.70 186.03,325.49 186.51,322.19 186.96,318.95 187.40,315.90 187.81,313.00 188.19,310.13 188.55,307.31 188.89,304.58 189.20,301.97 189.50,299.50 189.77,297.15 190.01,294.90 190.23,292.76 190.44,290.77 190.66,288.94 190.90,287.30 191.15,285.80 191.41,284.41 191.68,283.18 191.95,282.18 192.23,281.47 192.50,281.10 192.78,281.04 193.07,281.25 193.36,281.74 193.65,282.54 193.93,283.69 194.20,285.20 194.46,287.18 194.70,289.61 194.94,292.38 195.17,295.38 195.39,298.49 195.60,301.60 195.79,304.81 195.96,308.25 196.12,311.80 196.28,315.35 196.44,318.79 196.60,322.00 196.77,325.08 196.93,328.14 197.09,331.09 197.26,333.84 197.43,336.31 197.60,338.40 197.78,340.07 197.96,341.37 198.15,342.39 198.34,343.20 198.52,343.87 198.70,344.50 198.88,345.02 199.08,345.37 199.27,345.58 199.44,345.71 199.59,345.80 199.70,345.90" fill="none" stroke="#17956a" stroke-width="1.6" stroke-linejoin="round" stroke-linecap="round"/>
<polyline points="181.00,345.90 181.11,345.79 181.23,345.67 181.39,345.52 181.61,345.29 181.91,344.96 182.30,344.50 182.83,343.86 183.50,343.07 184.24,342.18 185.00,341.24 185.74,340.29 186.40,339.40 186.99,338.57 187.55,337.78 188.08,336.98 188.59,336.16 189.06,335.27 189.50,334.30 189.90,333.22 190.27,332.05 190.61,330.82 190.92,329.57 191.21,328.32 191.50,327.10 191.77,325.99 192.01,324.99 192.24,323.99 192.46,322.90 192.68,321.60 192.90,320.00 193.13,318.03 193.35,315.77 193.57,313.30 193.79,310.73 194.00,308.17 194.20,305.70 194.39,303.25 194.56,300.71 194.73,298.17 194.89,295.71 195.05,293.43 195.20,291.40 195.35,289.61 195.49,287.99 195.62,286.54 195.76,285.26 195.88,284.14 196.00,283.20 196.11,282.43 196.21,281.82 196.30,281.38 196.39,281.11 196.49,281.02 196.60,281.10 196.72,281.28 196.85,281.55 196.98,281.99 197.12,282.69 197.26,283.73 197.40,285.20 197.55,287.18 197.70,289.61 197.85,292.38 198.00,295.38 198.15,298.49 198.30,301.60 198.44,304.81 198.57,308.25 198.71,311.80 198.84,315.35 198.97,318.79 199.10,322.00 199.23,325.08 199.37,328.14 199.50,331.09 199.63,333.84 199.77,336.31 199.90,338.40 200.03,340.07 200.16,341.37 200.29,342.39 200.42,343.20 200.56,343.87 200.70,344.50 200.87,345.02 201.06,345.37 201.25,345.58 201.43,345.71 201.59,345.80 201.70,345.90" fill="none" stroke="#dc2f45" stroke-width="1.6" stroke-linejoin="round" stroke-linecap="round"/>
<line x1="167.80" y1="345.90" x2="170.40" y2="345.90" stroke="#333" stroke-width="0.9" />
<line x1="169.00" y1="343.28" x2="170.40" y2="343.28" stroke="#333" stroke-width="0.9" />
<line x1="169.00" y1="340.66" x2="170.40" y2="340.66" stroke="#333" stroke-width="0.9" />
<line x1="169.00" y1="338.04" x2="170.40" y2="338.04" stroke="#333" stroke-width="0.9" />
<line x1="169.00" y1="335.42" x2="170.40" y2="335.42" stroke="#333" stroke-width="0.9" />
<line x1="167.80" y1="332.80" x2="170.40" y2="332.80" stroke="#333" stroke-width="0.9" />
<line x1="169.00" y1="330.18" x2="170.40" y2="330.18" stroke="#333" stroke-width="0.9" />
<line x1="169.00" y1="327.56" x2="170.40" y2="327.56" stroke="#333" stroke-width="0.9" />
<line x1="169.00" y1="324.94" x2="170.40" y2="324.94" stroke="#333" stroke-width="0.9" />
<line x1="169.00" y1="322.32" x2="170.40" y2="322.32" stroke="#333" stroke-width="0.9" />
<line x1="167.80" y1="319.70" x2="170.40" y2="319.70" stroke="#333" stroke-width="0.9" />
<line x1="169.00" y1="317.08" x2="170.40" y2="317.08" stroke="#333" stroke-width="0.9" />
<line x1="169.00" y1="314.46" x2="170.40" y2="314.46" stroke="#333" stroke-width="0.9" />
<line x1="169.00" y1="311.84" x2="170.40" y2="311.84" stroke="#333" stroke-width="0.9" />
<line x1="169.00" y1="309.22" x2="170.40" y2="309.22" stroke="#333" stroke-width="0.9" />
<line x1="167.80" y1="306.60" x2="170.40" y2="306.60" stroke="#333" stroke-width="0.9" />
<line x1="169.00" y1="303.98" x2="170.40" y2="303.98" stroke="#333" stroke-width="0.9" />
<line x1="169.00" y1="301.36" x2="170.40" y2="301.36" stroke="#333" stroke-width="0.9" />
<line x1="169.00" y1="298.74" x2="170.40" y2="298.74" stroke="#333" stroke-width="0.9" />
<line x1="169.00" y1="296.12" x2="170.40" y2="296.12" stroke="#333" stroke-width="0.9" />
<line x1="167.80" y1="293.50" x2="170.40" y2="293.50" stroke="#333" stroke-width="0.9" />
<line x1="169.00" y1="290.88" x2="170.40" y2="290.88" stroke="#333" stroke-width="0.9" />
<line x1="169.00" y1="288.26" x2="170.40" y2="288.26" stroke="#333" stroke-width="0.9" />
<line x1="169.00" y1="285.64" x2="170.40" y2="285.64" stroke="#333" stroke-width="0.9" />
<line x1="169.00" y1="283.02" x2="170.40" y2="283.02" stroke="#333" stroke-width="0.9" />
<line x1="167.80" y1="280.40" x2="170.40" y2="280.40" stroke="#333" stroke-width="0.9" />
<line x1="169.00" y1="277.78" x2="170.40" y2="277.78" stroke="#333" stroke-width="0.9" />
<line x1="170.40" y1="345.90" x2="170.40" y2="348.10" stroke="#333" stroke-width="0.9" />
<line x1="173.02" y1="345.90" x2="173.02" y2="347.20" stroke="#333" stroke-width="0.9" />
<line x1="175.64" y1="345.90" x2="175.64" y2="347.20" stroke="#333" stroke-width="0.9" />
<line x1="178.26" y1="345.90" x2="178.26" y2="347.20" stroke="#333" stroke-width="0.9" />
<line x1="180.88" y1="345.90" x2="180.88" y2="347.20" stroke="#333" stroke-width="0.9" />
<line x1="183.50" y1="345.90" x2="183.50" y2="348.10" stroke="#333" stroke-width="0.9" />
<line x1="186.12" y1="345.90" x2="186.12" y2="347.20" stroke="#333" stroke-width="0.9" />
<line x1="188.74" y1="345.90" x2="188.74" y2="347.20" stroke="#333" stroke-width="0.9" />
<line x1="191.36" y1="345.90" x2="191.36" y2="347.20" stroke="#333" stroke-width="0.9" />
<line x1="193.98" y1="345.90" x2="193.98" y2="347.20" stroke="#333" stroke-width="0.9" />
<line x1="196.60" y1="345.90" x2="196.60" y2="348.10" stroke="#333" stroke-width="0.9" />
<line x1="199.22" y1="345.90" x2="199.22" y2="347.20" stroke="#333" stroke-width="0.9" />
<line x1="201.84" y1="345.90" x2="201.84" y2="347.20" stroke="#333" stroke-width="0.9" />
<line x1="204.46" y1="345.90" x2="204.46" y2="347.20" stroke="#333" stroke-width="0.9" />
<line x1="207.08" y1="345.90" x2="207.08" y2="347.20" stroke="#333" stroke-width="0.9" />
<line x1="209.70" y1="345.90" x2="209.70" y2="348.10" stroke="#333" stroke-width="0.9" />
<line x1="212.32" y1="345.90" x2="212.32" y2="347.20" stroke="#333" stroke-width="0.9" />
<line x1="214.94" y1="345.90" x2="214.94" y2="347.20" stroke="#333" stroke-width="0.9" />
<line x1="217.56" y1="345.90" x2="217.56" y2="347.20" stroke="#333" stroke-width="0.9" />
<line x1="220.18" y1="345.90" x2="220.18" y2="347.20" stroke="#333" stroke-width="0.9" />
<line x1="222.80" y1="345.90" x2="222.80" y2="348.10" stroke="#333" stroke-width="0.9" />
<line x1="225.42" y1="345.90" x2="225.42" y2="347.20" stroke="#333" stroke-width="0.9" />
<line x1="228.04" y1="345.90" x2="228.04" y2="347.20" stroke="#333" stroke-width="0.9" />
<line x1="230.66" y1="345.90" x2="230.66" y2="347.20" stroke="#333" stroke-width="0.9" />
<line x1="233.28" y1="345.90" x2="233.28" y2="347.20" stroke="#333" stroke-width="0.9" />
<line x1="235.90" y1="345.90" x2="235.90" y2="348.10" stroke="#333" stroke-width="0.9" />
<line x1="238.52" y1="345.90" x2="238.52" y2="347.20" stroke="#333" stroke-width="0.9" />
<rect x="170.4" y="277.1" width="69.19999999999999" height="68.79999999999995" fill="none" stroke="#6a6a6a" stroke-width="1.2"/>
<line x1="170.40" y1="345.50" x2="239.60" y2="345.50" stroke="#dc2f45" stroke-width="1.3" />
<text x="238.4" y="289.6" font-size="11.5" text-anchor="end" font-weight="normal" font-style="normal" fill="#222" >DN2</text>
<rect x="249.4" y="277.1" width="69.70000000000002" height="68.79999999999995" fill="#fff"/>
<polygon points="250.00,345.90 250.10,345.94 250.21,346.17 250.36,346.35 250.54,346.28 250.79,345.73 251.10,344.50 251.51,342.46 252.03,339.78 252.59,336.62 253.17,333.17 253.72,329.60 254.20,326.10 254.60,322.52 254.95,318.67 255.27,314.72 255.57,310.79 255.88,307.04 256.20,303.60 256.54,300.41 256.90,297.33 257.26,294.43 257.60,291.76 257.92,289.36 258.20,287.30 258.43,285.56 258.61,284.10 258.77,282.93 258.93,282.03 259.10,281.42 259.30,281.10 259.53,281.07 259.78,281.33 260.04,281.87 260.31,282.70 260.60,283.81 260.90,285.20 261.22,286.92 261.57,288.98 261.92,291.32 262.29,293.90 262.65,296.64 263.00,299.50 263.34,302.61 263.67,306.03 264.01,309.62 264.34,313.25 264.67,316.75 265.00,320.00 265.34,323.05 265.69,326.04 266.03,328.92 266.37,331.62 266.70,334.10 267.00,336.30 267.28,338.21 267.56,339.89 267.81,341.33 268.06,342.57 268.28,343.62 268.50,344.50 268.71,345.14 268.91,345.52 269.09,345.71 269.26,345.79 269.40,345.83 269.50,345.90" fill="#b8bcc3" stroke="none" stroke-width="0" stroke-linejoin="round" stroke-linecap="round"/>
<polyline points="251.00,345.90 251.10,345.87 251.21,345.94 251.36,345.97 251.54,345.83 251.79,345.38 252.10,344.50 252.50,343.17 252.99,341.51 253.53,339.54 254.10,337.30 254.67,334.84 255.20,332.20 255.71,329.22 256.22,325.85 256.72,322.26 257.23,318.60 257.72,315.06 258.20,311.80 258.67,308.78 259.13,305.84 259.58,303.02 260.03,300.33 260.47,297.79 260.90,295.40 261.34,293.14 261.78,290.98 262.22,288.97 262.64,287.14 263.04,285.54 263.40,284.20 263.71,283.13 263.99,282.30 264.23,281.69 264.47,281.30 264.72,281.11 265.00,281.10 265.30,281.27 265.62,281.63 265.94,282.19 266.28,282.96 266.63,283.96 267.00,285.20 267.39,286.78 267.81,288.69 268.25,290.84 268.69,293.10 269.11,295.36 269.50,297.50 269.86,299.53 270.20,301.53 270.53,303.53 270.84,305.56 271.17,307.64 271.50,309.80 271.85,312.08 272.20,314.46 272.55,316.90 272.90,319.34 273.25,321.72 273.60,324.00 273.94,326.21 274.27,328.39 274.60,330.53 274.93,332.57 275.26,334.51 275.60,336.30 275.96,337.98 276.33,339.59 276.71,341.08 277.08,342.42 277.41,343.57 277.70,344.50 277.94,345.14 278.15,345.52 278.33,345.71 278.48,345.79 278.60,345.83 278.70,345.90" fill="none" stroke="#3b3a8f" stroke-width="1.6" stroke-linejoin="round" stroke-linecap="round"/>
<polyline points="251.00,345.90 251.09,345.89 251.20,345.99 251.34,346.04 251.53,345.91 251.78,345.45 252.10,344.50 252.53,343.04 253.05,341.17 253.63,338.98 254.24,336.50 254.84,333.82 255.40,331.00 255.92,327.88 256.43,324.37 256.94,320.66 257.43,316.91 257.92,313.30 258.40,310.00 258.87,306.98 259.33,304.09 259.78,301.34 260.23,298.74 260.67,296.29 261.10,294.00 261.54,291.84 261.98,289.79 262.42,287.90 262.84,286.20 263.24,284.72 263.60,283.50 263.91,282.56 264.19,281.86 264.43,281.39 264.67,281.12 264.92,281.03 265.20,281.10 265.51,281.33 265.83,281.74 266.16,282.32 266.50,283.10 266.84,284.05 267.20,285.20 267.57,286.58 267.96,288.19 268.35,289.99 268.74,291.93 269.13,293.95 269.50,296.00 269.85,298.12 270.20,300.36 270.54,302.69 270.87,305.06 271.19,307.44 271.50,309.80 271.80,312.17 272.09,314.57 272.38,316.99 272.65,319.39 272.93,321.74 273.20,324.00 273.47,326.21 273.73,328.39 273.99,330.53 274.26,332.57 274.52,334.51 274.80,336.30 275.10,337.98 275.41,339.59 275.74,341.08 276.05,342.42 276.34,343.57 276.60,344.50 276.82,345.14 277.03,345.52 277.21,345.71 277.37,345.79 277.50,345.83 277.60,345.90" fill="none" stroke="#17956a" stroke-width="1.6" stroke-linejoin="round" stroke-linecap="round"/>
<polyline points="251.50,345.90 251.63,345.85 251.80,345.86 252.01,345.84 252.23,345.67 252.47,345.26 252.70,344.50 252.93,343.24 253.16,341.53 253.40,339.57 253.65,337.57 253.92,335.75 254.20,334.30 254.52,333.33 254.87,332.71 255.23,332.25 255.59,331.79 255.92,331.17 256.20,330.20 256.42,328.88 256.58,327.33 256.72,325.61 256.85,323.78 257.00,321.89 257.20,320.00 257.45,318.00 257.73,315.83 258.02,313.59 258.33,311.42 258.63,309.42 258.90,307.70 259.16,306.35 259.40,305.29 259.64,304.39 259.87,303.56 260.09,302.67 260.30,301.60 260.49,300.21 260.66,298.57 260.82,296.86 260.98,295.30 261.14,294.08 261.30,293.40 261.46,293.56 261.61,294.46 261.77,295.71 261.93,296.89 262.10,297.62 262.30,297.50 262.52,296.32 262.76,294.35 263.01,291.93 263.27,289.37 263.54,287.02 263.80,285.20 264.07,283.84 264.34,282.66 264.62,281.69 264.89,280.93 265.16,280.39 265.40,280.10 265.62,280.08 265.83,280.34 266.02,280.82 266.21,281.49 266.40,282.29 266.60,283.20 266.81,284.39 267.04,285.94 267.26,287.62 267.49,289.24 267.70,290.57 267.90,291.40 268.08,291.50 268.26,291.01 268.42,290.22 268.58,289.47 268.74,289.06 268.90,289.30 269.06,290.45 269.23,292.32 269.39,294.53 269.55,296.70 269.72,298.49 269.90,299.50 270.08,299.63 270.27,299.15 270.47,298.27 270.67,297.21 270.88,296.19 271.10,295.40 271.34,294.81 271.61,294.24 271.89,293.71 272.16,293.21 272.40,292.77 272.60,292.40 272.75,292.04 272.85,291.66 272.93,291.33 273.00,291.13 273.09,291.13 273.20,291.40 273.35,291.91 273.51,292.60 273.69,293.49 273.87,294.60 274.04,295.93 274.20,297.50 274.34,299.39 274.47,301.59 274.60,304.01 274.73,306.58 274.86,309.21 275.00,311.80 275.15,314.45 275.31,317.23 275.47,320.08 275.64,322.89 275.81,325.59 276.00,328.10 276.20,330.48 276.41,332.80 276.62,335.01 276.85,337.06 277.07,338.87 277.30,340.40 277.53,341.59 277.76,342.47 278.00,343.13 278.24,343.64 278.47,344.07 278.70,344.50 278.69,344.91 278.39,345.22 278.09,345.46 278.07,345.64 278.62,345.78 280.00,345.90 282.65,346.01 286.41,346.10 290.74,346.16 295.07,346.15 298.84,346.07 301.50,345.90 302.91,345.54 303.48,345.00 303.50,344.38 303.24,343.80 302.98,343.37 303.00,343.20 303.27,343.37 303.56,343.80 303.84,344.38 304.11,345.00 304.34,345.54 304.50,345.90" fill="none" stroke="#dc2f45" stroke-width="1.6" stroke-linejoin="round" stroke-linecap="round"/>
<line x1="246.80" y1="345.90" x2="249.40" y2="345.90" stroke="#333" stroke-width="0.9" />
<line x1="248.00" y1="343.28" x2="249.40" y2="343.28" stroke="#333" stroke-width="0.9" />
<line x1="248.00" y1="340.66" x2="249.40" y2="340.66" stroke="#333" stroke-width="0.9" />
<line x1="248.00" y1="338.04" x2="249.40" y2="338.04" stroke="#333" stroke-width="0.9" />
<line x1="248.00" y1="335.42" x2="249.40" y2="335.42" stroke="#333" stroke-width="0.9" />
<line x1="246.80" y1="332.80" x2="249.40" y2="332.80" stroke="#333" stroke-width="0.9" />
<line x1="248.00" y1="330.18" x2="249.40" y2="330.18" stroke="#333" stroke-width="0.9" />
<line x1="248.00" y1="327.56" x2="249.40" y2="327.56" stroke="#333" stroke-width="0.9" />
<line x1="248.00" y1="324.94" x2="249.40" y2="324.94" stroke="#333" stroke-width="0.9" />
<line x1="248.00" y1="322.32" x2="249.40" y2="322.32" stroke="#333" stroke-width="0.9" />
<line x1="246.80" y1="319.70" x2="249.40" y2="319.70" stroke="#333" stroke-width="0.9" />
<line x1="248.00" y1="317.08" x2="249.40" y2="317.08" stroke="#333" stroke-width="0.9" />
<line x1="248.00" y1="314.46" x2="249.40" y2="314.46" stroke="#333" stroke-width="0.9" />
<line x1="248.00" y1="311.84" x2="249.40" y2="311.84" stroke="#333" stroke-width="0.9" />
<line x1="248.00" y1="309.22" x2="249.40" y2="309.22" stroke="#333" stroke-width="0.9" />
<line x1="246.80" y1="306.60" x2="249.40" y2="306.60" stroke="#333" stroke-width="0.9" />
<line x1="248.00" y1="303.98" x2="249.40" y2="303.98" stroke="#333" stroke-width="0.9" />
<line x1="248.00" y1="301.36" x2="249.40" y2="301.36" stroke="#333" stroke-width="0.9" />
<line x1="248.00" y1="298.74" x2="249.40" y2="298.74" stroke="#333" stroke-width="0.9" />
<line x1="248.00" y1="296.12" x2="249.40" y2="296.12" stroke="#333" stroke-width="0.9" />
<line x1="246.80" y1="293.50" x2="249.40" y2="293.50" stroke="#333" stroke-width="0.9" />
<line x1="248.00" y1="290.88" x2="249.40" y2="290.88" stroke="#333" stroke-width="0.9" />
<line x1="248.00" y1="288.26" x2="249.40" y2="288.26" stroke="#333" stroke-width="0.9" />
<line x1="248.00" y1="285.64" x2="249.40" y2="285.64" stroke="#333" stroke-width="0.9" />
<line x1="248.00" y1="283.02" x2="249.40" y2="283.02" stroke="#333" stroke-width="0.9" />
<line x1="246.80" y1="280.40" x2="249.40" y2="280.40" stroke="#333" stroke-width="0.9" />
<line x1="248.00" y1="277.78" x2="249.40" y2="277.78" stroke="#333" stroke-width="0.9" />
<line x1="249.40" y1="345.90" x2="249.40" y2="348.10" stroke="#333" stroke-width="0.9" />
<line x1="252.02" y1="345.90" x2="252.02" y2="347.20" stroke="#333" stroke-width="0.9" />
<line x1="254.64" y1="345.90" x2="254.64" y2="347.20" stroke="#333" stroke-width="0.9" />
<line x1="257.26" y1="345.90" x2="257.26" y2="347.20" stroke="#333" stroke-width="0.9" />
<line x1="259.88" y1="345.90" x2="259.88" y2="347.20" stroke="#333" stroke-width="0.9" />
<line x1="262.50" y1="345.90" x2="262.50" y2="348.10" stroke="#333" stroke-width="0.9" />
<line x1="265.12" y1="345.90" x2="265.12" y2="347.20" stroke="#333" stroke-width="0.9" />
<line x1="267.74" y1="345.90" x2="267.74" y2="347.20" stroke="#333" stroke-width="0.9" />
<line x1="270.36" y1="345.90" x2="270.36" y2="347.20" stroke="#333" stroke-width="0.9" />
<line x1="272.98" y1="345.90" x2="272.98" y2="347.20" stroke="#333" stroke-width="0.9" />
<line x1="275.60" y1="345.90" x2="275.60" y2="348.10" stroke="#333" stroke-width="0.9" />
<line x1="278.22" y1="345.90" x2="278.22" y2="347.20" stroke="#333" stroke-width="0.9" />
<line x1="280.84" y1="345.90" x2="280.84" y2="347.20" stroke="#333" stroke-width="0.9" />
<line x1="283.46" y1="345.90" x2="283.46" y2="347.20" stroke="#333" stroke-width="0.9" />
<line x1="286.08" y1="345.90" x2="286.08" y2="347.20" stroke="#333" stroke-width="0.9" />
<line x1="288.70" y1="345.90" x2="288.70" y2="348.10" stroke="#333" stroke-width="0.9" />
<line x1="291.32" y1="345.90" x2="291.32" y2="347.20" stroke="#333" stroke-width="0.9" />
<line x1="293.94" y1="345.90" x2="293.94" y2="347.20" stroke="#333" stroke-width="0.9" />
<line x1="296.56" y1="345.90" x2="296.56" y2="347.20" stroke="#333" stroke-width="0.9" />
<line x1="299.18" y1="345.90" x2="299.18" y2="347.20" stroke="#333" stroke-width="0.9" />
<line x1="301.80" y1="345.90" x2="301.80" y2="348.10" stroke="#333" stroke-width="0.9" />
<line x1="304.42" y1="345.90" x2="304.42" y2="347.20" stroke="#333" stroke-width="0.9" />
<line x1="307.04" y1="345.90" x2="307.04" y2="347.20" stroke="#333" stroke-width="0.9" />
<line x1="309.66" y1="345.90" x2="309.66" y2="347.20" stroke="#333" stroke-width="0.9" />
<line x1="312.28" y1="345.90" x2="312.28" y2="347.20" stroke="#333" stroke-width="0.9" />
<line x1="314.90" y1="345.90" x2="314.90" y2="348.10" stroke="#333" stroke-width="0.9" />
<line x1="317.52" y1="345.90" x2="317.52" y2="347.20" stroke="#333" stroke-width="0.9" />
<rect x="249.4" y="277.1" width="69.70000000000002" height="68.79999999999995" fill="none" stroke="#6a6a6a" stroke-width="1.2"/>
<line x1="249.40" y1="345.50" x2="319.10" y2="345.50" stroke="#dc2f45" stroke-width="1.3" />
<text x="317.90000000000003" y="289.6" font-size="11.5" text-anchor="end" font-weight="normal" font-style="normal" fill="#222" >DN3</text>
<rect x="337.9" y="277.1" width="69.60000000000002" height="68.79999999999995" fill="#fff"/>
<polygon points="339.00,345.90 339.10,345.94 339.21,346.17 339.36,346.35 339.54,346.28 339.79,345.73 340.10,344.50 340.50,342.44 340.99,339.70 341.53,336.49 342.10,333.01 342.67,329.48 343.20,326.10 343.72,322.75 344.24,319.22 344.76,315.64 345.27,312.12 345.75,308.77 346.20,305.70 346.60,302.90 346.97,300.29 347.31,297.85 347.64,295.56 347.97,293.42 348.30,291.40 348.64,289.41 348.97,287.43 349.30,285.59 349.63,284.02 349.96,282.85 350.30,282.20 350.65,282.12 351.02,282.50 351.39,283.28 351.75,284.39 352.09,285.75 352.40,287.30 352.67,289.08 352.91,291.16 353.13,293.49 353.34,296.04 353.56,298.76 353.80,301.60 354.06,304.72 354.33,308.17 354.61,311.80 354.88,315.43 355.15,318.88 355.40,322.00 355.64,324.81 355.87,327.44 356.10,329.91 356.31,332.21 356.52,334.34 356.70,336.30 356.86,338.10 357.00,339.74 357.12,341.21 357.24,342.50 357.36,343.60 357.50,344.50 357.67,345.14 357.86,345.52 358.05,345.71 358.23,345.79 358.39,345.83 358.50,345.90" fill="#b8bcc3" stroke="none" stroke-width="0" stroke-linejoin="round" stroke-linecap="round"/>
<polyline points="339.00,345.90 339.10,345.94 339.21,346.17 339.36,346.35 339.54,346.28 339.79,345.73 340.10,344.50 340.50,342.44 340.99,339.70 341.53,336.49 342.10,333.01 342.67,329.48 343.20,326.10 343.71,322.77 344.22,319.30 344.72,315.78 345.23,312.28 345.72,308.89 346.20,305.70 346.67,302.64 347.11,299.65 347.56,296.76 348.00,294.04 348.44,291.54 348.90,289.30 349.38,287.26 349.89,285.37 350.39,283.69 350.89,282.31 351.37,281.28 351.80,280.70 352.19,280.60 352.55,280.94 352.88,281.64 353.20,282.64 353.50,283.85 353.80,285.20 354.09,286.73 354.36,288.50 354.62,290.48 354.87,292.66 355.13,295.01 355.40,297.50 355.68,300.24 355.96,303.26 356.25,306.45 356.54,309.70 356.82,312.88 357.10,315.90 357.37,318.81 357.64,321.71 357.91,324.56 358.17,327.29 358.43,329.85 358.70,332.20 358.97,334.36 359.24,336.39 359.52,338.24 359.79,339.90 360.05,341.33 360.30,342.50 360.54,343.32 360.77,343.80 360.99,344.06 361.20,344.19 361.40,344.30 361.60,344.50 361.80,344.78 361.99,345.06 362.18,345.32 362.35,345.56 362.49,345.75 362.60,345.90" fill="none" stroke="#3b3a8f" stroke-width="1.6" stroke-linejoin="round" stroke-linecap="round"/>
<polyline points="339.00,345.90 339.12,345.95 339.27,346.17 339.46,346.36 339.69,346.29 339.96,345.74 340.30,344.50 340.71,342.44 341.20,339.69 341.74,336.48 342.30,332.99 342.86,329.43 343.40,326.00 343.92,322.59 344.44,319.00 344.97,315.34 345.49,311.72 346.00,308.24 346.50,305.00 346.98,301.95 347.44,299.01 347.89,296.21 348.34,293.58 348.81,291.16 349.30,289.00 349.84,287.01 350.41,285.15 351.00,283.51 351.58,282.16 352.12,281.20 352.60,280.70 353.01,280.70 353.36,281.14 353.68,281.97 353.97,283.12 354.28,284.55 354.60,286.20 354.95,288.16 355.30,290.49 355.66,293.09 356.02,295.88 356.37,298.75 356.70,301.60 357.02,304.54 357.32,307.66 357.62,310.87 357.91,314.06 358.20,317.14 358.50,320.00 358.80,322.69 359.10,325.30 359.41,327.79 359.71,330.14 360.01,332.32 360.30,334.30 360.59,336.09 360.88,337.71 361.16,339.17 361.44,340.45 361.72,341.56 362.00,342.50 362.28,343.20 362.56,343.65 362.84,343.93 363.11,344.11 363.37,344.27 363.60,344.50 363.81,344.78 364.01,345.06 364.20,345.32 364.36,345.56 364.50,345.75 364.60,345.90" fill="none" stroke="#17956a" stroke-width="1.6" stroke-linejoin="round" stroke-linecap="round"/>
<polyline points="338.50,345.90 338.59,345.90 338.70,346.01 338.83,346.09 339.00,345.97 339.22,345.50 339.50,344.50 339.85,342.93 340.26,340.91 340.73,338.54 341.21,335.90 341.71,333.09 342.20,330.20 342.69,327.08 343.20,323.63 343.71,320.01 344.23,316.38 344.73,312.92 345.20,309.80 345.65,307.00 346.09,304.40 346.51,301.96 346.92,299.67 347.32,297.49 347.70,295.40 348.07,293.39 348.41,291.46 348.75,289.66 349.07,287.99 349.39,286.50 349.70,285.20 350.00,284.13 350.28,283.27 350.55,282.57 350.82,282.01 351.10,281.53 351.40,281.10 351.72,280.71 352.06,280.39 352.41,280.15 352.75,280.01 353.09,279.99 353.40,280.10 353.69,280.27 353.96,280.49 354.22,280.82 354.47,281.34 354.73,282.11 355.00,283.20 355.28,284.66 355.56,286.44 355.85,288.47 356.14,290.69 356.42,293.02 356.70,295.40 356.97,297.91 357.24,300.63 357.51,303.47 357.77,306.33 358.03,309.14 358.30,311.80 358.57,314.35 358.83,316.87 359.09,319.34 359.36,321.71 359.63,323.98 359.90,326.10 360.18,328.08 360.46,329.95 360.75,331.71 361.04,333.35 361.32,334.88 361.60,336.30 361.87,337.61 362.15,338.82 362.42,339.91 362.69,340.89 362.95,341.76 363.20,342.50 363.44,343.08 363.68,343.50 363.91,343.80 364.14,344.03 364.37,344.25 364.60,344.50 364.85,344.78 365.12,345.06 365.39,345.32 365.64,345.56 365.85,345.75 366.00,345.90" fill="none" stroke="#dc2f45" stroke-width="1.6" stroke-linejoin="round" stroke-linecap="round"/>
<line x1="335.30" y1="345.90" x2="337.90" y2="345.90" stroke="#333" stroke-width="0.9" />
<line x1="336.50" y1="343.28" x2="337.90" y2="343.28" stroke="#333" stroke-width="0.9" />
<line x1="336.50" y1="340.66" x2="337.90" y2="340.66" stroke="#333" stroke-width="0.9" />
<line x1="336.50" y1="338.04" x2="337.90" y2="338.04" stroke="#333" stroke-width="0.9" />
<line x1="336.50" y1="335.42" x2="337.90" y2="335.42" stroke="#333" stroke-width="0.9" />
<line x1="335.30" y1="332.80" x2="337.90" y2="332.80" stroke="#333" stroke-width="0.9" />
<line x1="336.50" y1="330.18" x2="337.90" y2="330.18" stroke="#333" stroke-width="0.9" />
<line x1="336.50" y1="327.56" x2="337.90" y2="327.56" stroke="#333" stroke-width="0.9" />
<line x1="336.50" y1="324.94" x2="337.90" y2="324.94" stroke="#333" stroke-width="0.9" />
<line x1="336.50" y1="322.32" x2="337.90" y2="322.32" stroke="#333" stroke-width="0.9" />
<line x1="335.30" y1="319.70" x2="337.90" y2="319.70" stroke="#333" stroke-width="0.9" />
<line x1="336.50" y1="317.08" x2="337.90" y2="317.08" stroke="#333" stroke-width="0.9" />
<line x1="336.50" y1="314.46" x2="337.90" y2="314.46" stroke="#333" stroke-width="0.9" />
<line x1="336.50" y1="311.84" x2="337.90" y2="311.84" stroke="#333" stroke-width="0.9" />
<line x1="336.50" y1="309.22" x2="337.90" y2="309.22" stroke="#333" stroke-width="0.9" />
<line x1="335.30" y1="306.60" x2="337.90" y2="306.60" stroke="#333" stroke-width="0.9" />
<line x1="336.50" y1="303.98" x2="337.90" y2="303.98" stroke="#333" stroke-width="0.9" />
<line x1="336.50" y1="301.36" x2="337.90" y2="301.36" stroke="#333" stroke-width="0.9" />
<line x1="336.50" y1="298.74" x2="337.90" y2="298.74" stroke="#333" stroke-width="0.9" />
<line x1="336.50" y1="296.12" x2="337.90" y2="296.12" stroke="#333" stroke-width="0.9" />
<line x1="335.30" y1="293.50" x2="337.90" y2="293.50" stroke="#333" stroke-width="0.9" />
<line x1="336.50" y1="290.88" x2="337.90" y2="290.88" stroke="#333" stroke-width="0.9" />
<line x1="336.50" y1="288.26" x2="337.90" y2="288.26" stroke="#333" stroke-width="0.9" />
<line x1="336.50" y1="285.64" x2="337.90" y2="285.64" stroke="#333" stroke-width="0.9" />
<line x1="336.50" y1="283.02" x2="337.90" y2="283.02" stroke="#333" stroke-width="0.9" />
<line x1="335.30" y1="280.40" x2="337.90" y2="280.40" stroke="#333" stroke-width="0.9" />
<line x1="336.50" y1="277.78" x2="337.90" y2="277.78" stroke="#333" stroke-width="0.9" />
<line x1="337.90" y1="345.90" x2="337.90" y2="348.10" stroke="#333" stroke-width="0.9" />
<line x1="340.52" y1="345.90" x2="340.52" y2="347.20" stroke="#333" stroke-width="0.9" />
<line x1="343.14" y1="345.90" x2="343.14" y2="347.20" stroke="#333" stroke-width="0.9" />
<line x1="345.76" y1="345.90" x2="345.76" y2="347.20" stroke="#333" stroke-width="0.9" />
<line x1="348.38" y1="345.90" x2="348.38" y2="347.20" stroke="#333" stroke-width="0.9" />
<line x1="351.00" y1="345.90" x2="351.00" y2="348.10" stroke="#333" stroke-width="0.9" />
<line x1="353.62" y1="345.90" x2="353.62" y2="347.20" stroke="#333" stroke-width="0.9" />
<line x1="356.24" y1="345.90" x2="356.24" y2="347.20" stroke="#333" stroke-width="0.9" />
<line x1="358.86" y1="345.90" x2="358.86" y2="347.20" stroke="#333" stroke-width="0.9" />
<line x1="361.48" y1="345.90" x2="361.48" y2="347.20" stroke="#333" stroke-width="0.9" />
<line x1="364.10" y1="345.90" x2="364.10" y2="348.10" stroke="#333" stroke-width="0.9" />
<line x1="366.72" y1="345.90" x2="366.72" y2="347.20" stroke="#333" stroke-width="0.9" />
<line x1="369.34" y1="345.90" x2="369.34" y2="347.20" stroke="#333" stroke-width="0.9" />
<line x1="371.96" y1="345.90" x2="371.96" y2="347.20" stroke="#333" stroke-width="0.9" />
<line x1="374.58" y1="345.90" x2="374.58" y2="347.20" stroke="#333" stroke-width="0.9" />
<line x1="377.20" y1="345.90" x2="377.20" y2="348.10" stroke="#333" stroke-width="0.9" />
<line x1="379.82" y1="345.90" x2="379.82" y2="347.20" stroke="#333" stroke-width="0.9" />
<line x1="382.44" y1="345.90" x2="382.44" y2="347.20" stroke="#333" stroke-width="0.9" />
<line x1="385.06" y1="345.90" x2="385.06" y2="347.20" stroke="#333" stroke-width="0.9" />
<line x1="387.68" y1="345.90" x2="387.68" y2="347.20" stroke="#333" stroke-width="0.9" />
<line x1="390.30" y1="345.90" x2="390.30" y2="348.10" stroke="#333" stroke-width="0.9" />
<line x1="392.92" y1="345.90" x2="392.92" y2="347.20" stroke="#333" stroke-width="0.9" />
<line x1="395.54" y1="345.90" x2="395.54" y2="347.20" stroke="#333" stroke-width="0.9" />
<line x1="398.16" y1="345.90" x2="398.16" y2="347.20" stroke="#333" stroke-width="0.9" />
<line x1="400.78" y1="345.90" x2="400.78" y2="347.20" stroke="#333" stroke-width="0.9" />
<line x1="403.40" y1="345.90" x2="403.40" y2="348.10" stroke="#333" stroke-width="0.9" />
<line x1="406.02" y1="345.90" x2="406.02" y2="347.20" stroke="#333" stroke-width="0.9" />
<rect x="337.9" y="277.1" width="69.60000000000002" height="68.79999999999995" fill="none" stroke="#6a6a6a" stroke-width="1.2"/>
<line x1="337.90" y1="345.50" x2="407.50" y2="345.50" stroke="#dc2f45" stroke-width="1.3" />
<text x="406.3" y="289.6" font-size="11.5" text-anchor="end" font-weight="normal" font-style="normal" fill="#222" >NK</text>
<text transform="translate(81.9,317.5) rotate(-90)" font-size="12" text-anchor="middle" fill="#333">% of max</text>
<text transform="translate(90.3,361.3) scale(1.04,1)" font-size="11.4" fill="#222">GATA3</text>
<line x1="135.00" y1="357.50" x2="305.60" y2="357.50" stroke="#222" stroke-width="1.4" />
<line x1="426.00" y1="285.30" x2="434.80" y2="285.30" stroke="#d6505a" stroke-width="1.8" />
<line x1="426.00" y1="297.80" x2="434.80" y2="297.80" stroke="#3f8a70" stroke-width="1.8" />
<line x1="426.00" y1="309.60" x2="434.80" y2="309.60" stroke="#4a4278" stroke-width="1.8" />
<rect x="426.5" y="318.1" width="7.9" height="7.5" fill="#9a9a9a"/>
<text transform="translate(438.6,289.6) scale(1.06,1)" font-size="11" fill="#222" font-style="italic">E2A<tspan font-size="10" dx="0.4" dy="-4.0">-/-</tspan></text>
<text transform="translate(438.6,301.9) scale(1.06,1)" font-size="11" fill="#222" font-style="italic">E2A<tspan font-size="10" dx="0.4" dy="-4.0">+/-</tspan></text>
<text transform="translate(438.6,314.6) scale(1.06,1)" font-size="11" fill="#222" font-style="italic">E2A<tspan font-size="10" dx="0.4" dy="-4.0">+/+</tspan></text>
<text x="439" y="325.6" font-size="11.4" text-anchor="start" font-weight="normal" font-style="normal" fill="#222" >control</text>
</svg></body></html>
